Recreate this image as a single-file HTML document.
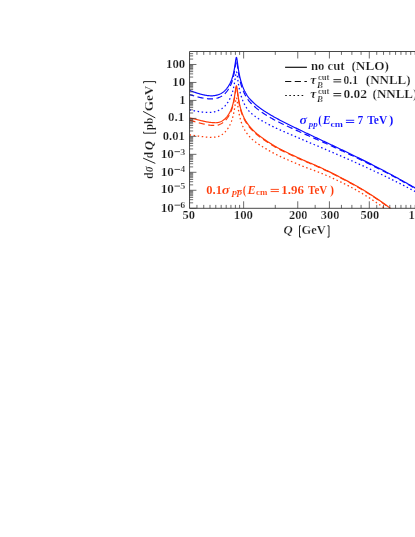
<!DOCTYPE html><html><head><meta charset="utf-8"><style>html,body{margin:0;padding:0;background:#fff}body{width:415px;height:537px;position:relative;overflow:hidden;font-family:"Liberation Serif",serif}</style></head><body><svg width="415" height="537" viewBox="0 0 415 537" style="position:absolute;left:0;top:0;will-change:transform">
<defs><clipPath id="c"><rect x="189.55" y="51.50" width="300" height="156.80"/></clipPath></defs>
<rect width="415" height="537" fill="#fff"/>
<g clip-path="url(#c)" fill="none" stroke-width="1.20" stroke-linejoin="round">
<path d="M189.55,134.91 L190.05,134.96 L190.55,135.01 L191.05,135.07 L191.55,135.13 L192.05,135.19 L192.55,135.25 L193.05,135.32 L193.55,135.38 L194.05,135.45 L194.55,135.52 L195.05,135.59 L195.55,135.66 L196.05,135.73 L196.55,135.80 L197.05,135.87 L197.55,135.94 L198.05,136.02 L198.55,136.09 L199.05,136.16 L199.55,136.23 L200.05,136.30 L200.55,136.37 L201.05,136.44 L201.55,136.51 L202.05,136.58 L202.55,136.65 L203.05,136.71 L203.55,136.77 L204.05,136.83 L204.55,136.89 L205.05,136.94 L205.55,137.00 L206.05,137.04 L206.55,137.09 L207.05,137.13 L207.55,137.17 L208.05,137.20 L208.55,137.22 L209.05,137.25 L209.55,137.26 L210.05,137.27 L210.55,137.28 L211.05,137.27 L211.55,137.26 L212.05,137.24 L212.55,137.22 L213.05,137.20 L213.55,137.18 L214.05,137.16 L214.55,137.13 L215.05,137.09 L215.55,137.04 L216.05,136.98 L216.55,136.91 L217.05,136.82 L217.55,136.70 L218.05,136.57 L218.55,136.41 L219.05,136.22 L219.55,136.01 L220.05,135.77 L220.55,135.51 L221.05,135.23 L221.55,134.92 L222.05,134.58 L222.55,134.22 L223.05,133.84 L223.55,133.42 L224.05,132.98 L224.55,132.50 L225.05,131.99 L225.55,131.45 L226.05,130.87 L226.55,130.26 L227.05,129.60 L227.55,128.90 L228.00,128.24 L228.05,128.16 L228.10,128.09 L228.15,128.01 L228.20,127.93 L228.25,127.85 L228.30,127.78 L228.35,127.70 L228.40,127.62 L228.45,127.54 L228.50,127.46 L228.55,127.37 L228.55,127.37 L228.60,127.29 L228.65,127.21 L228.70,127.13 L228.75,127.04 L228.80,126.96 L228.85,126.87 L228.90,126.79 L228.95,126.70 L229.00,126.62 L229.05,126.53 L229.05,126.53 L229.10,126.44 L229.15,126.35 L229.20,126.26 L229.25,126.17 L229.30,126.08 L229.35,125.99 L229.40,125.90 L229.45,125.80 L229.50,125.71 L229.55,125.61 L229.55,125.61 L229.60,125.52 L229.65,125.42 L229.70,125.32 L229.75,125.23 L229.80,125.13 L229.85,125.03 L229.90,124.93 L229.95,124.83 L230.00,124.72 L230.05,124.62 L230.05,124.62 L230.10,124.52 L230.15,124.41 L230.20,124.30 L230.25,124.20 L230.30,124.09 L230.35,123.98 L230.40,123.87 L230.45,123.76 L230.50,123.65 L230.55,123.53 L230.55,123.53 L230.60,123.42 L230.65,123.30 L230.70,123.19 L230.75,123.07 L230.80,122.95 L230.85,122.83 L230.90,122.71 L230.95,122.59 L231.00,122.46 L231.05,122.34 L231.05,122.34 L231.10,122.21 L231.15,122.08 L231.20,121.95 L231.25,121.82 L231.30,121.69 L231.35,121.56 L231.40,121.42 L231.45,121.29 L231.50,121.15 L231.55,121.01 L231.55,121.01 L231.60,120.87 L231.65,120.73 L231.70,120.58 L231.75,120.44 L231.80,120.29 L231.85,120.14 L231.90,119.99 L231.95,119.84 L232.00,119.69 L232.05,119.53 L232.05,119.53 L232.10,119.37 L232.15,119.22 L232.20,119.05 L232.25,118.89 L232.30,118.73 L232.35,118.56 L232.40,118.39 L232.45,118.22 L232.50,118.05 L232.55,117.87 L232.55,117.87 L232.60,117.70 L232.65,117.52 L232.70,117.34 L232.75,117.15 L232.80,116.97 L232.85,116.78 L232.90,116.59 L232.95,116.40 L233.00,116.20 L233.05,116.00 L233.05,116.00 L233.10,115.80 L233.15,115.60 L233.20,115.39 L233.25,115.18 L233.30,114.97 L233.35,114.76 L233.40,114.54 L233.45,114.32 L233.50,114.10 L233.55,113.87 L233.55,113.87 L233.60,113.64 L233.65,113.41 L233.70,113.17 L233.75,112.93 L233.80,112.69 L233.85,112.45 L233.90,112.20 L233.95,111.94 L234.00,111.68 L234.05,111.42 L234.05,111.42 L234.10,111.16 L234.15,110.89 L234.20,110.62 L234.25,110.34 L234.30,110.06 L234.35,109.77 L234.40,109.49 L234.45,109.19 L234.50,108.89 L234.55,108.59 L234.55,108.59 L234.60,108.29 L234.65,107.98 L234.70,107.66 L234.75,107.34 L234.80,107.02 L234.85,106.69 L234.90,106.36 L234.95,106.02 L235.00,105.68 L235.05,105.34 L235.05,105.34 L235.10,105.00 L235.15,104.65 L235.20,104.29 L235.25,103.94 L235.30,103.58 L235.35,103.23 L235.40,102.87 L235.45,102.52 L235.50,102.16 L235.55,101.81 L235.55,101.81 L235.60,101.46 L235.65,101.11 L235.70,100.78 L235.75,100.45 L235.80,100.13 L235.85,99.82 L235.90,99.53 L235.95,99.25 L236.00,98.99 L236.05,98.75 L236.05,98.75 L236.10,98.54 L236.15,98.35 L236.20,98.19 L236.25,98.06 L236.30,97.95 L236.35,97.88 L236.40,97.85 L236.45,97.85 L236.50,97.88 L236.55,97.95 L236.55,97.95 L236.60,98.05 L236.65,98.18 L236.70,98.34 L236.75,98.53 L236.80,98.75 L236.85,98.99 L236.90,99.25 L236.95,99.54 L237.00,99.84 L237.05,100.16 L237.05,100.16 L237.10,100.48 L237.15,100.83 L237.20,101.18 L237.25,101.53 L237.30,101.90 L237.35,102.26 L237.40,102.63 L237.45,103.01 L237.50,103.38 L237.55,103.75 L237.55,103.75 L237.60,104.13 L237.65,104.50 L237.70,104.87 L237.75,105.24 L237.80,105.60 L237.85,105.96 L237.90,106.32 L237.95,106.68 L238.00,107.03 L238.05,107.37 L238.05,107.37 L238.10,107.72 L238.15,108.05 L238.20,108.39 L238.25,108.72 L238.30,109.04 L238.35,109.36 L238.40,109.68 L238.45,109.99 L238.50,110.30 L238.55,110.60 L238.55,110.60 L238.60,110.90 L238.65,111.20 L238.70,111.49 L238.75,111.78 L238.80,112.06 L238.85,112.34 L238.90,112.61 L238.95,112.88 L239.00,113.15 L239.05,113.41 L239.05,113.41 L239.10,113.67 L239.15,113.93 L239.20,114.18 L239.25,114.43 L239.30,114.67 L239.35,114.91 L239.40,115.15 L239.45,115.39 L239.50,115.62 L239.55,115.85 L239.55,115.85 L239.60,116.07 L239.65,116.29 L239.70,116.51 L239.75,116.73 L239.80,116.94 L239.85,117.15 L239.90,117.36 L239.95,117.56 L240.00,117.76 L240.05,117.96 L240.05,117.96 L240.10,118.16 L240.15,118.35 L240.20,118.55 L240.25,118.74 L240.30,118.92 L240.35,119.11 L240.40,119.29 L240.45,119.47 L240.50,119.65 L240.55,119.83 L240.55,119.83 L240.60,120.01 L240.65,120.18 L240.70,120.35 L240.75,120.52 L240.80,120.69 L240.85,120.85 L240.90,121.02 L240.95,121.18 L241.00,121.34 L241.05,121.50 L241.05,121.50 L241.10,121.66 L241.15,121.81 L241.20,121.97 L241.25,122.12 L241.30,122.27 L241.35,122.42 L241.40,122.57 L241.45,122.71 L241.50,122.86 L241.55,123.00 L241.55,123.00 L241.60,123.15 L241.65,123.29 L241.70,123.43 L241.75,123.56 L241.80,123.70 L241.85,123.84 L241.90,123.97 L241.95,124.11 L242.00,124.24 L242.05,124.37 L242.05,124.37 L242.10,124.50 L242.15,124.63 L242.20,124.76 L242.25,124.88 L242.30,125.01 L242.35,125.13 L242.40,125.25 L242.45,125.38 L242.50,125.50 L242.55,125.62 L242.55,125.62 L242.60,125.74 L242.65,125.86 L242.70,125.97 L242.75,126.09 L242.80,126.20 L242.85,126.32 L242.90,126.43 L242.95,126.54 L243.00,126.66 L243.05,126.77 L243.05,126.77 L243.10,126.88 L243.15,126.99 L243.20,127.09 L243.25,127.20 L243.30,127.31 L243.35,127.41 L243.40,127.52 L243.45,127.62 L243.50,127.73 L243.55,127.83 L243.55,127.83 L243.60,127.93 L243.65,128.03 L243.70,128.13 L243.75,128.23 L243.80,128.33 L243.85,128.43 L243.90,128.53 L243.95,128.62 L244.00,128.72 L244.05,128.81 L244.05,128.81 L244.10,128.91 L244.15,129.00 L244.20,129.10 L244.25,129.19 L244.30,129.28 L244.35,129.37 L244.40,129.46 L244.45,129.55 L244.50,129.64 L244.55,129.73 L244.55,129.73 L244.60,129.82 L244.65,129.91 L244.70,130.00 L244.75,130.08 L244.80,130.17 L244.85,130.26 L244.90,130.34 L244.95,130.43 L245.00,130.51 L245.05,130.59 L245.05,130.59 L245.10,130.68 L245.15,130.76 L245.20,130.84 L245.25,130.92 L245.30,131.01 L245.35,131.09 L245.40,131.17 L245.45,131.25 L245.50,131.33 L245.55,131.40 L245.55,131.40 L245.60,131.48 L245.65,131.56 L245.70,131.64 L245.75,131.71 L245.80,131.79 L245.85,131.87 L245.90,131.94 L245.95,132.02 L246.05,132.17 L246.55,132.89 L247.05,133.58 L247.55,134.24 L248.05,134.86 L248.55,135.47 L249.05,136.05 L249.55,136.61 L250.05,137.16 L250.55,137.68 L251.05,138.19 L251.55,138.68 L252.05,139.16 L252.55,139.61 L253.05,140.06 L253.55,140.49 L254.05,140.91 L254.55,141.32 L255.05,141.71 L255.55,142.10 L256.05,142.48 L256.55,142.84 L257.05,143.20 L257.55,143.56 L258.05,143.90 L258.55,144.24 L259.05,144.57 L259.55,144.89 L260.05,145.21 L260.55,145.53 L261.05,145.84 L261.55,146.15 L262.05,146.46 L262.55,146.77 L263.05,147.07 L263.55,147.37 L264.05,147.67 L264.55,147.97 L265.05,148.27 L265.55,148.57 L266.05,148.86 L266.55,149.16 L267.05,149.45 L267.55,149.74 L268.05,150.03 L268.55,150.32 L269.05,150.61 L269.55,150.89 L270.05,151.18 L270.55,151.46 L271.05,151.75 L271.55,152.03 L272.05,152.30 L272.55,152.58 L273.05,152.85 L273.55,153.12 L274.05,153.39 L274.55,153.66 L275.05,153.92 L275.55,154.18 L276.05,154.44 L276.55,154.69 L277.05,154.95 L277.55,155.19 L278.05,155.44 L278.55,155.68 L279.05,155.92 L279.55,156.16 L280.05,156.39 L280.55,156.62 L281.05,156.85 L281.55,157.08 L282.05,157.31 L282.55,157.53 L283.05,157.76 L283.55,157.99 L284.05,158.21 L284.55,158.44 L285.05,158.66 L285.55,158.88 L286.05,159.10 L286.55,159.32 L287.05,159.55 L287.55,159.77 L288.05,159.98 L288.55,160.20 L289.05,160.42 L289.55,160.64 L290.05,160.86 L290.55,161.07 L291.05,161.29 L291.55,161.51 L292.05,161.72 L292.55,161.94 L293.05,162.15 L293.55,162.36 L294.05,162.58 L294.55,162.79 L295.05,163.00 L295.55,163.21 L296.05,163.42 L296.55,163.64 L297.05,163.85 L297.55,164.06 L298.05,164.27 L298.55,164.48 L299.05,164.68 L299.55,164.89 L300.05,165.10 L300.55,165.31 L301.05,165.51 L301.55,165.72 L302.05,165.92 L302.55,166.12 L303.05,166.32 L303.55,166.52 L304.05,166.71 L304.55,166.91 L305.05,167.10 L305.55,167.29 L306.05,167.48 L306.55,167.67 L307.05,167.86 L307.55,168.05 L308.05,168.24 L308.55,168.43 L309.05,168.62 L309.55,168.80 L310.05,168.99 L310.55,169.17 L311.05,169.36 L311.55,169.55 L312.05,169.73 L312.55,169.92 L313.05,170.10 L313.55,170.29 L314.05,170.47 L314.55,170.66 L315.05,170.84 L315.55,171.03 L316.05,171.22 L316.55,171.41 L317.05,171.60 L317.55,171.79 L318.05,171.98 L318.55,172.18 L319.05,172.37 L319.55,172.57 L320.05,172.77 L320.55,172.97 L321.05,173.17 L321.55,173.38 L322.05,173.58 L322.55,173.78 L323.05,173.99 L323.55,174.20 L324.05,174.41 L324.55,174.61 L325.05,174.83 L325.55,175.04 L326.05,175.25 L326.55,175.47 L327.05,175.68 L327.55,175.90 L328.05,176.12 L328.55,176.34 L329.05,176.56 L329.55,176.78 L330.05,177.00 L330.55,177.23 L331.05,177.46 L331.55,177.68 L332.05,177.91 L332.55,178.14 L333.05,178.37 L333.55,178.61 L334.05,178.84 L334.55,179.07 L335.05,179.30 L335.55,179.54 L336.05,179.77 L336.55,180.01 L337.05,180.24 L337.55,180.48 L338.05,180.72 L338.55,180.95 L339.05,181.19 L339.55,181.43 L340.05,181.67 L340.55,181.91 L341.05,182.15 L341.55,182.39 L342.05,182.64 L342.55,182.88 L343.05,183.13 L343.55,183.37 L344.05,183.62 L344.55,183.87 L345.05,184.12 L345.55,184.37 L346.05,184.62 L346.55,184.87 L347.05,185.13 L347.55,185.38 L348.05,185.64 L348.55,185.89 L349.05,186.15 L349.55,186.41 L350.05,186.67 L350.55,186.94 L351.05,187.20 L351.55,187.47 L352.05,187.74 L352.55,188.01 L353.05,188.28 L353.55,188.56 L354.05,188.83 L354.55,189.11 L355.05,189.39 L355.55,189.67 L356.05,189.95 L356.55,190.23 L357.05,190.51 L357.55,190.80 L358.05,191.08 L358.55,191.37 L359.05,191.66 L359.55,191.95 L360.05,192.24 L360.55,192.54 L361.05,192.83 L361.55,193.13 L362.05,193.42 L362.55,193.72 L363.05,194.02 L363.55,194.32 L364.05,194.63 L364.55,194.93 L365.05,195.24 L365.55,195.54 L366.05,195.85 L366.55,196.17 L367.05,196.48 L367.55,196.79 L368.05,197.11 L368.55,197.43 L369.05,197.75 L369.55,198.07 L370.05,198.39 L370.55,198.71 L371.05,199.04 L371.55,199.37 L372.05,199.69 L372.55,200.02 L373.05,200.35 L373.55,200.68 L374.05,201.01 L374.55,201.34 L375.05,201.67 L375.55,202.01 L376.05,202.34 L376.55,202.68 L377.05,203.02 L377.55,203.36 L378.05,203.70 L378.55,204.04 L379.05,204.39 L379.55,204.74 L380.05,205.09 L380.55,205.44 L381.05,205.79 L381.55,206.15 L382.05,206.50 L382.55,206.87 L383.05,207.23 L383.55,207.59 L384.05,207.96 L384.55,208.33 L385.05,208.70 L385.55,209.08 L386.05,209.46 L386.55,209.84 L387.05,210.22 L387.55,210.61 L388.05,211.00" stroke="#ff3a08" stroke-width="1.28" stroke-dasharray="1.5 2.6" />
<path d="M189.55,120.21 L190.05,120.35 L190.55,120.48 L191.05,120.62 L191.55,120.76 L192.05,120.90 L192.55,121.03 L193.05,121.17 L193.55,121.31 L194.05,121.45 L194.55,121.59 L195.05,121.73 L195.55,121.87 L196.05,122.00 L196.55,122.14 L197.05,122.28 L197.55,122.42 L198.05,122.55 L198.55,122.69 L199.05,122.82 L199.55,122.96 L200.05,123.09 L200.55,123.22 L201.05,123.35 L201.55,123.48 L202.05,123.60 L202.55,123.73 L203.05,123.85 L203.55,123.97 L204.05,124.08 L204.55,124.20 L205.05,124.31 L205.55,124.41 L206.05,124.52 L206.55,124.62 L207.05,124.71 L207.55,124.80 L208.05,124.89 L208.55,124.97 L209.05,125.04 L209.55,125.11 L210.05,125.18 L210.55,125.23 L211.05,125.28 L211.55,125.32 L212.05,125.36 L212.55,125.39 L213.05,125.41 L213.55,125.44 L214.05,125.45 L214.55,125.45 L215.05,125.45 L215.55,125.43 L216.05,125.39 L216.55,125.34 L217.05,125.27 L217.55,125.17 L218.05,125.05 L218.55,124.91 L219.05,124.74 L219.55,124.54 L220.05,124.31 L220.55,124.07 L221.05,123.80 L221.55,123.50 L222.05,123.18 L222.55,122.84 L223.05,122.47 L223.55,122.07 L224.05,121.65 L224.55,121.20 L225.05,120.71 L225.55,120.20 L226.05,119.65 L226.55,119.06 L227.05,118.43 L227.55,117.76 L228.00,117.12 L228.05,117.04 L228.10,116.97 L228.15,116.89 L228.20,116.82 L228.25,116.74 L228.30,116.67 L228.35,116.59 L228.40,116.52 L228.45,116.44 L228.50,116.36 L228.55,116.28 L228.55,116.28 L228.60,116.20 L228.65,116.12 L228.70,116.04 L228.75,115.96 L228.80,115.88 L228.85,115.80 L228.90,115.71 L228.95,115.63 L229.00,115.55 L229.05,115.46 L229.05,115.46 L229.10,115.38 L229.15,115.29 L229.20,115.20 L229.25,115.12 L229.30,115.03 L229.35,114.94 L229.40,114.85 L229.45,114.76 L229.50,114.67 L229.55,114.58 L229.55,114.58 L229.60,114.48 L229.65,114.39 L229.70,114.29 L229.75,114.20 L229.80,114.10 L229.85,114.01 L229.90,113.91 L229.95,113.81 L230.00,113.71 L230.05,113.61 L230.05,113.61 L230.10,113.51 L230.15,113.41 L230.20,113.30 L230.25,113.20 L230.30,113.09 L230.35,112.99 L230.40,112.88 L230.45,112.77 L230.50,112.66 L230.55,112.55 L230.55,112.55 L230.60,112.44 L230.65,112.33 L230.70,112.21 L230.75,112.10 L230.80,111.98 L230.85,111.86 L230.90,111.75 L230.95,111.63 L231.00,111.50 L231.05,111.38 L231.05,111.38 L231.10,111.26 L231.15,111.13 L231.20,111.01 L231.25,110.88 L231.30,110.75 L231.35,110.62 L231.40,110.49 L231.45,110.36 L231.50,110.22 L231.55,110.09 L231.55,110.09 L231.60,109.95 L231.65,109.81 L231.70,109.67 L231.75,109.53 L231.80,109.38 L231.85,109.24 L231.90,109.09 L231.95,108.94 L232.00,108.79 L232.05,108.64 L232.05,108.64 L232.10,108.48 L232.15,108.33 L232.20,108.17 L232.25,108.01 L232.30,107.85 L232.35,107.68 L232.40,107.52 L232.45,107.35 L232.50,107.18 L232.55,107.01 L232.55,107.01 L232.60,106.83 L232.65,106.66 L232.70,106.48 L232.75,106.30 L232.80,106.12 L232.85,105.93 L232.90,105.74 L232.95,105.56 L233.00,105.36 L233.05,105.17 L233.05,105.17 L233.10,104.97 L233.15,104.77 L233.20,104.57 L233.25,104.36 L233.30,104.15 L233.35,103.94 L233.40,103.73 L233.45,103.51 L233.50,103.29 L233.55,103.07 L233.55,103.07 L233.60,102.84 L233.65,102.61 L233.70,102.38 L233.75,102.14 L233.80,101.90 L233.85,101.66 L233.90,101.41 L233.95,101.16 L234.00,100.91 L234.05,100.65 L234.05,100.65 L234.10,100.39 L234.15,100.13 L234.20,99.86 L234.25,99.58 L234.30,99.30 L234.35,99.02 L234.40,98.74 L234.45,98.45 L234.50,98.15 L234.55,97.85 L234.55,97.85 L234.60,97.55 L234.65,97.24 L234.70,96.93 L234.75,96.62 L234.80,96.30 L234.85,95.97 L234.90,95.64 L234.95,95.31 L235.00,94.98 L235.05,94.64 L235.05,94.64 L235.10,94.29 L235.15,93.95 L235.20,93.60 L235.25,93.25 L235.30,92.90 L235.35,92.55 L235.40,92.19 L235.45,91.84 L235.50,91.49 L235.55,91.14 L235.55,91.14 L235.60,90.79 L235.65,90.45 L235.70,90.12 L235.75,89.79 L235.80,89.48 L235.85,89.17 L235.90,88.88 L235.95,88.61 L236.00,88.36 L236.05,88.12 L236.05,88.12 L236.10,87.91 L236.15,87.72 L236.20,87.57 L236.25,87.44 L236.30,87.34 L236.35,87.27 L236.40,87.24 L236.45,87.24 L236.50,87.28 L236.55,87.35 L236.55,87.35 L236.60,87.45 L236.65,87.59 L236.70,87.75 L236.75,87.95 L236.80,88.17 L236.85,88.42 L236.90,88.68 L236.95,88.97 L237.00,89.28 L237.05,89.60 L237.05,89.60 L237.10,89.93 L237.15,90.28 L237.20,90.63 L237.25,90.99 L237.30,91.36 L237.35,91.73 L237.40,92.10 L237.45,92.48 L237.50,92.86 L237.55,93.24 L237.55,93.24 L237.60,93.61 L237.65,93.99 L237.70,94.36 L237.75,94.73 L237.80,95.10 L237.85,95.47 L237.90,95.83 L237.95,96.19 L238.00,96.54 L238.05,96.90 L238.05,96.90 L238.10,97.24 L238.15,97.58 L238.20,97.92 L238.25,98.26 L238.30,98.59 L238.35,98.91 L238.40,99.23 L238.45,99.55 L238.50,99.86 L238.55,100.17 L238.55,100.17 L238.60,100.47 L238.65,100.77 L238.70,101.06 L238.75,101.36 L238.80,101.64 L238.85,101.92 L238.90,102.20 L238.95,102.48 L239.00,102.75 L239.05,103.02 L239.05,103.02 L239.10,103.28 L239.15,103.54 L239.20,103.80 L239.25,104.05 L239.30,104.30 L239.35,104.54 L239.40,104.79 L239.45,105.03 L239.50,105.26 L239.55,105.49 L239.55,105.49 L239.60,105.72 L239.65,105.95 L239.70,106.17 L239.75,106.39 L239.80,106.61 L239.85,106.83 L239.90,107.04 L239.95,107.25 L240.00,107.45 L240.05,107.66 L240.05,107.66 L240.10,107.86 L240.15,108.06 L240.20,108.25 L240.25,108.45 L240.30,108.64 L240.35,108.83 L240.40,109.02 L240.45,109.20 L240.50,109.39 L240.55,109.57 L240.55,109.57 L240.60,109.75 L240.65,109.93 L240.70,110.10 L240.75,110.28 L240.80,110.45 L240.85,110.62 L240.90,110.79 L240.95,110.96 L241.00,111.12 L241.05,111.28 L241.05,111.28 L241.10,111.45 L241.15,111.61 L241.20,111.77 L241.25,111.92 L241.30,112.08 L241.35,112.23 L241.40,112.39 L241.45,112.54 L241.50,112.69 L241.55,112.84 L241.55,112.84 L241.60,112.98 L241.65,113.13 L241.70,113.27 L241.75,113.42 L241.80,113.56 L241.85,113.70 L241.90,113.84 L241.95,113.98 L242.00,114.11 L242.05,114.25 L242.05,114.25 L242.10,114.39 L242.15,114.52 L242.20,114.65 L242.25,114.78 L242.30,114.91 L242.35,115.04 L242.40,115.17 L242.45,115.30 L242.50,115.42 L242.55,115.55 L242.55,115.55 L242.60,115.67 L242.65,115.80 L242.70,115.92 L242.75,116.04 L242.80,116.16 L242.85,116.28 L242.90,116.40 L242.95,116.51 L243.00,116.63 L243.05,116.75 L243.05,116.75 L243.10,116.86 L243.15,116.98 L243.20,117.09 L243.25,117.20 L243.30,117.31 L243.35,117.42 L243.40,117.53 L243.45,117.64 L243.50,117.75 L243.55,117.86 L243.55,117.86 L243.60,117.97 L243.65,118.07 L243.70,118.18 L243.75,118.28 L243.80,118.39 L243.85,118.49 L243.90,118.59 L243.95,118.69 L244.00,118.80 L244.05,118.90 L244.05,118.90 L244.10,119.00 L244.15,119.09 L244.20,119.19 L244.25,119.29 L244.30,119.39 L244.35,119.49 L244.40,119.58 L244.45,119.68 L244.50,119.77 L244.55,119.87 L244.55,119.87 L244.60,119.96 L244.65,120.05 L244.70,120.15 L244.75,120.24 L244.80,120.33 L244.85,120.42 L244.90,120.51 L244.95,120.60 L245.00,120.69 L245.05,120.78 L245.05,120.78 L245.10,120.87 L245.15,120.96 L245.20,121.04 L245.25,121.13 L245.30,121.22 L245.35,121.30 L245.40,121.39 L245.45,121.47 L245.50,121.56 L245.55,121.64 L245.55,121.64 L245.60,121.73 L245.65,121.81 L245.70,121.89 L245.75,121.98 L245.80,122.06 L245.85,122.14 L245.90,122.22 L245.95,122.30 L246.05,122.46 L246.55,123.24 L247.05,123.98 L247.55,124.69 L248.05,125.38 L248.55,126.04 L249.05,126.68 L249.55,127.30 L250.05,127.90 L250.55,128.48 L251.05,129.05 L251.55,129.60 L252.05,130.13 L252.55,130.64 L253.05,131.15 L253.55,131.63 L254.05,132.11 L254.55,132.57 L255.05,133.03 L255.55,133.47 L256.05,133.90 L256.55,134.33 L257.05,134.74 L257.55,135.15 L258.05,135.55 L258.55,135.94 L259.05,136.32 L259.55,136.70 L260.05,137.07 L260.55,137.44 L261.05,137.80 L261.55,138.16 L262.05,138.52 L262.55,138.87 L263.05,139.22 L263.55,139.57 L264.05,139.92 L264.55,140.26 L265.05,140.60 L265.55,140.94 L266.05,141.28 L266.55,141.61 L267.05,141.94 L267.55,142.27 L268.05,142.60 L268.55,142.92 L269.05,143.25 L269.55,143.57 L270.05,143.88 L270.55,144.20 L271.05,144.51 L271.55,144.82 L272.05,145.13 L272.55,145.43 L273.05,145.73 L273.55,146.03 L274.05,146.33 L274.55,146.62 L275.05,146.91 L275.55,147.19 L276.05,147.48 L276.55,147.76 L277.05,148.03 L277.55,148.31 L278.05,148.58 L278.55,148.85 L279.05,149.11 L279.55,149.37 L280.05,149.62 L280.55,149.88 L281.05,150.13 L281.55,150.38 L282.05,150.63 L282.55,150.88 L283.05,151.12 L283.55,151.37 L284.05,151.62 L284.55,151.86 L285.05,152.11 L285.55,152.35 L286.05,152.59 L286.55,152.83 L287.05,153.07 L287.55,153.31 L288.05,153.55 L288.55,153.79 L289.05,154.03 L289.55,154.26 L290.05,154.50 L290.55,154.74 L291.05,154.97 L291.55,155.21 L292.05,155.44 L292.55,155.67 L293.05,155.91 L293.55,156.14 L294.05,156.37 L294.55,156.60 L295.05,156.84 L295.55,157.07 L296.05,157.30 L296.55,157.53 L297.05,157.76 L297.55,157.99 L298.05,158.22 L298.55,158.44 L299.05,158.67 L299.55,158.90 L300.05,159.13 L300.55,159.36 L301.05,159.58 L301.55,159.81 L302.05,160.03 L302.55,160.25 L303.05,160.47 L303.55,160.69 L304.05,160.90 L304.55,161.12 L305.05,161.34 L305.55,161.55 L306.05,161.76 L306.55,161.98 L307.05,162.19 L307.55,162.40 L308.05,162.61 L308.55,162.82 L309.05,163.03 L309.55,163.24 L310.05,163.45 L310.55,163.66 L311.05,163.88 L311.55,164.09 L312.05,164.30 L312.55,164.51 L313.05,164.72 L313.55,164.93 L314.05,165.15 L314.55,165.36 L315.05,165.58 L315.55,165.79 L316.05,166.01 L316.55,166.23 L317.05,166.44 L317.55,166.66 L318.05,166.89 L318.55,167.11 L319.05,167.33 L319.55,167.56 L320.05,167.79 L320.55,168.02 L321.05,168.25 L321.55,168.48 L322.05,168.71 L322.55,168.94 L323.05,169.17 L323.55,169.41 L324.05,169.64 L324.55,169.88 L325.05,170.12 L325.55,170.36 L326.05,170.59 L326.55,170.83 L327.05,171.07 L327.55,171.32 L328.05,171.56 L328.55,171.80 L329.05,172.04 L329.55,172.29 L330.05,172.53 L330.55,172.78 L331.05,173.03 L331.55,173.27 L332.05,173.52 L332.55,173.77 L333.05,174.02 L333.55,174.27 L334.05,174.52 L334.55,174.77 L335.05,175.02 L335.55,175.28 L336.05,175.53 L336.55,175.78 L337.05,176.04 L337.55,176.29 L338.05,176.55 L338.55,176.81 L339.05,177.07 L339.55,177.32 L340.05,177.58 L340.55,177.84 L341.05,178.10 L341.55,178.36 L342.05,178.62 L342.55,178.88 L343.05,179.14 L343.55,179.41 L344.05,179.67 L344.55,179.93 L345.05,180.20 L345.55,180.46 L346.05,180.72 L346.55,180.99 L347.05,181.25 L347.55,181.52 L348.05,181.79 L348.55,182.05 L349.05,182.32 L349.55,182.59 L350.05,182.85 L350.55,183.12 L351.05,183.39 L351.55,183.66 L352.05,183.93 L352.55,184.21 L353.05,184.48 L353.55,184.76 L354.05,185.03 L354.55,185.31 L355.05,185.59 L355.55,185.87 L356.05,186.15 L356.55,186.43 L357.05,186.71 L357.55,187.00 L358.05,187.28 L358.55,187.57 L359.05,187.86 L359.55,188.15 L360.05,188.44 L360.55,188.73 L361.05,189.03 L361.55,189.32 L362.05,189.62 L362.55,189.91 L363.05,190.21 L363.55,190.51 L364.05,190.82 L364.55,191.12 L365.05,191.43 L365.55,191.73 L366.05,192.04 L366.55,192.35 L367.05,192.66 L367.55,192.97 L368.05,193.29 L368.55,193.60 L369.05,193.92 L369.55,194.24 L370.05,194.56 L370.55,194.88 L371.05,195.21 L371.55,195.53 L372.05,195.85 L372.55,196.18 L373.05,196.50 L373.55,196.83 L374.05,197.16 L374.55,197.49 L375.05,197.81 L375.55,198.15 L376.05,198.48 L376.55,198.81 L377.05,199.15 L377.55,199.48 L378.05,199.82 L378.55,200.16 L379.05,200.50 L379.55,200.84 L380.05,201.19 L380.55,201.53 L381.05,201.88 L381.55,202.23 L382.05,202.58 L382.55,202.94 L383.05,203.29 L383.55,203.65 L384.05,204.01 L384.55,204.38 L385.05,204.74 L385.55,205.11 L386.05,205.48 L386.55,205.86 L387.05,206.23 L387.55,206.61 L388.05,207.00 L388.55,207.38 L389.05,207.77 L389.55,208.16 L390.05,208.56 L390.55,208.95 L391.05,209.35 L391.55,209.75 L392.05,210.16 L392.55,210.57 L393.05,210.98" stroke="#ff3a08" stroke-dasharray="6.1 3.5" />
<path d="M189.55,117.91 L190.05,118.01 L190.55,118.12 L191.05,118.22 L191.55,118.33 L192.05,118.44 L192.55,118.56 L193.05,118.67 L193.55,118.79 L194.05,118.90 L194.55,119.02 L195.05,119.14 L195.55,119.26 L196.05,119.38 L196.55,119.50 L197.05,119.63 L197.55,119.75 L198.05,119.87 L198.55,120.00 L199.05,120.12 L199.55,120.24 L200.05,120.37 L200.55,120.49 L201.05,120.61 L201.55,120.73 L202.05,120.85 L202.55,120.96 L203.05,121.08 L203.55,121.19 L204.05,121.31 L204.55,121.42 L205.05,121.52 L205.55,121.63 L206.05,121.73 L206.55,121.82 L207.05,121.92 L207.55,122.01 L208.05,122.09 L208.55,122.17 L209.05,122.24 L209.55,122.31 L210.05,122.38 L210.55,122.43 L211.05,122.48 L211.55,122.52 L212.05,122.56 L212.55,122.59 L213.05,122.62 L213.55,122.66 L214.05,122.69 L214.55,122.71 L215.05,122.73 L215.55,122.73 L216.05,122.73 L216.55,122.71 L217.05,122.67 L217.55,122.61 L218.05,122.53 L218.55,122.42 L219.05,122.29 L219.55,122.13 L220.05,121.95 L220.55,121.74 L221.05,121.51 L221.55,121.26 L222.05,120.98 L222.55,120.67 L223.05,120.34 L223.55,119.98 L224.05,119.59 L224.55,119.17 L225.05,118.72 L225.55,118.23 L226.05,117.71 L226.55,117.15 L227.05,116.54 L227.55,115.90 L228.00,115.29 L228.05,115.22 L228.10,115.15 L228.15,115.08 L228.20,115.00 L228.25,114.93 L228.30,114.86 L228.35,114.78 L228.40,114.71 L228.45,114.64 L228.50,114.56 L228.55,114.48 L228.55,114.48 L228.60,114.41 L228.65,114.33 L228.70,114.25 L228.75,114.18 L228.80,114.10 L228.85,114.02 L228.90,113.94 L228.95,113.86 L229.00,113.78 L229.05,113.69 L229.05,113.69 L229.10,113.61 L229.15,113.53 L229.20,113.44 L229.25,113.36 L229.30,113.27 L229.35,113.19 L229.40,113.10 L229.45,113.01 L229.50,112.92 L229.55,112.84 L229.55,112.84 L229.60,112.75 L229.65,112.65 L229.70,112.56 L229.75,112.47 L229.80,112.38 L229.85,112.28 L229.90,112.19 L229.95,112.09 L230.00,111.99 L230.05,111.90 L230.05,111.90 L230.10,111.80 L230.15,111.70 L230.20,111.60 L230.25,111.50 L230.30,111.39 L230.35,111.29 L230.40,111.19 L230.45,111.08 L230.50,110.97 L230.55,110.87 L230.55,110.87 L230.60,110.76 L230.65,110.65 L230.70,110.54 L230.75,110.42 L230.80,110.31 L230.85,110.20 L230.90,110.08 L230.95,109.96 L231.00,109.84 L231.05,109.73 L231.05,109.73 L231.10,109.60 L231.15,109.48 L231.20,109.36 L231.25,109.23 L231.30,109.11 L231.35,108.98 L231.40,108.85 L231.45,108.72 L231.50,108.59 L231.55,108.46 L231.55,108.46 L231.60,108.32 L231.65,108.18 L231.70,108.05 L231.75,107.91 L231.80,107.76 L231.85,107.62 L231.90,107.48 L231.95,107.33 L232.00,107.18 L232.05,107.03 L232.05,107.03 L232.10,106.88 L232.15,106.73 L232.20,106.57 L232.25,106.41 L232.30,106.26 L232.35,106.09 L232.40,105.93 L232.45,105.77 L232.50,105.60 L232.55,105.43 L232.55,105.43 L232.60,105.26 L232.65,105.09 L232.70,104.91 L232.75,104.73 L232.80,104.55 L232.85,104.37 L232.90,104.18 L232.95,104.00 L233.00,103.81 L233.05,103.61 L233.05,103.61 L233.10,103.42 L233.15,103.22 L233.20,103.02 L233.25,102.82 L233.30,102.61 L233.35,102.40 L233.40,102.19 L233.45,101.98 L233.50,101.76 L233.55,101.54 L233.55,101.54 L233.60,101.32 L233.65,101.09 L233.70,100.86 L233.75,100.63 L233.80,100.39 L233.85,100.15 L233.90,99.90 L233.95,99.65 L234.00,99.40 L234.05,99.15 L234.05,99.15 L234.10,98.89 L234.15,98.63 L234.20,98.36 L234.25,98.09 L234.30,97.81 L234.35,97.53 L234.40,97.25 L234.45,96.96 L234.50,96.67 L234.55,96.37 L234.55,96.37 L234.60,96.07 L234.65,95.77 L234.70,95.46 L234.75,95.14 L234.80,94.83 L234.85,94.50 L234.90,94.18 L234.95,93.85 L235.00,93.51 L235.05,93.18 L235.05,93.18 L235.10,92.84 L235.15,92.49 L235.20,92.15 L235.25,91.80 L235.30,91.45 L235.35,91.10 L235.40,90.75 L235.45,90.40 L235.50,90.05 L235.55,89.70 L235.55,89.70 L235.60,89.36 L235.65,89.02 L235.70,88.69 L235.75,88.36 L235.80,88.05 L235.85,87.75 L235.90,87.46 L235.95,87.19 L236.00,86.94 L236.05,86.70 L236.05,86.70 L236.10,86.49 L236.15,86.31 L236.20,86.15 L236.25,86.03 L236.30,85.93 L236.35,85.87 L236.40,85.84 L236.45,85.84 L236.50,85.88 L236.55,85.95 L236.55,85.95 L236.60,86.06 L236.65,86.19 L236.70,86.36 L236.75,86.56 L236.80,86.78 L236.85,87.03 L236.90,87.30 L236.95,87.59 L237.00,87.90 L237.05,88.22 L237.05,88.22 L237.10,88.55 L237.15,88.90 L237.20,89.26 L237.25,89.62 L237.30,89.99 L237.35,90.36 L237.40,90.74 L237.45,91.12 L237.50,91.50 L237.55,91.88 L237.55,91.88 L237.60,92.25 L237.65,92.63 L237.70,93.01 L237.75,93.38 L237.80,93.75 L237.85,94.12 L237.90,94.48 L237.95,94.84 L238.00,95.20 L238.05,95.55 L238.05,95.55 L238.10,95.90 L238.15,96.25 L238.20,96.59 L238.25,96.92 L238.30,97.25 L238.35,97.58 L238.40,97.90 L238.45,98.22 L238.50,98.53 L238.55,98.84 L238.55,98.84 L238.60,99.15 L238.65,99.45 L238.70,99.75 L238.75,100.04 L238.80,100.33 L238.85,100.61 L238.90,100.89 L238.95,101.17 L239.00,101.44 L239.05,101.71 L239.05,101.71 L239.10,101.98 L239.15,102.24 L239.20,102.49 L239.25,102.75 L239.30,103.00 L239.35,103.25 L239.40,103.49 L239.45,103.73 L239.50,103.97 L239.55,104.21 L239.55,104.21 L239.60,104.44 L239.65,104.66 L239.70,104.89 L239.75,105.11 L239.80,105.33 L239.85,105.55 L239.90,105.76 L239.95,105.97 L240.00,106.18 L240.05,106.38 L240.05,106.38 L240.10,106.59 L240.15,106.79 L240.20,106.99 L240.25,107.18 L240.30,107.38 L240.35,107.57 L240.40,107.76 L240.45,107.94 L240.50,108.13 L240.55,108.31 L240.55,108.31 L240.60,108.50 L240.65,108.67 L240.70,108.85 L240.75,109.03 L240.80,109.20 L240.85,109.37 L240.90,109.54 L240.95,109.71 L241.00,109.88 L241.05,110.05 L241.05,110.05 L241.10,110.21 L241.15,110.37 L241.20,110.53 L241.25,110.69 L241.30,110.85 L241.35,111.00 L241.40,111.16 L241.45,111.31 L241.50,111.46 L241.55,111.61 L241.55,111.61 L241.60,111.76 L241.65,111.91 L241.70,112.06 L241.75,112.20 L241.80,112.34 L241.85,112.49 L241.90,112.63 L241.95,112.77 L242.00,112.91 L242.05,113.04 L242.05,113.04 L242.10,113.18 L242.15,113.32 L242.20,113.45 L242.25,113.58 L242.30,113.71 L242.35,113.84 L242.40,113.97 L242.45,114.10 L242.50,114.23 L242.55,114.36 L242.55,114.36 L242.60,114.48 L242.65,114.61 L242.70,114.73 L242.75,114.85 L242.80,114.98 L242.85,115.10 L242.90,115.22 L242.95,115.34 L243.00,115.45 L243.05,115.57 L243.05,115.57 L243.10,115.69 L243.15,115.80 L243.20,115.92 L243.25,116.03 L243.30,116.14 L243.35,116.26 L243.40,116.37 L243.45,116.48 L243.50,116.59 L243.55,116.70 L243.55,116.70 L243.60,116.81 L243.65,116.91 L243.70,117.02 L243.75,117.13 L243.80,117.23 L243.85,117.34 L243.90,117.44 L243.95,117.54 L244.00,117.65 L244.05,117.75 L244.05,117.75 L244.10,117.85 L244.15,117.95 L244.20,118.05 L244.25,118.15 L244.30,118.25 L244.35,118.35 L244.40,118.45 L244.45,118.54 L244.50,118.64 L244.55,118.73 L244.55,118.73 L244.60,118.83 L244.65,118.92 L244.70,119.02 L244.75,119.11 L244.80,119.21 L244.85,119.30 L244.90,119.39 L244.95,119.48 L245.00,119.57 L245.05,119.66 L245.05,119.66 L245.10,119.75 L245.15,119.84 L245.20,119.93 L245.25,120.02 L245.30,120.11 L245.35,120.19 L245.40,120.28 L245.45,120.37 L245.50,120.45 L245.55,120.54 L245.55,120.54 L245.60,120.62 L245.65,120.71 L245.70,120.79 L245.75,120.88 L245.80,120.96 L245.85,121.04 L245.90,121.13 L245.95,121.21 L246.05,121.37 L246.55,122.16 L247.05,122.92 L247.55,123.64 L248.05,124.34 L248.55,125.01 L249.05,125.66 L249.55,126.29 L250.05,126.90 L250.55,127.49 L251.05,128.07 L251.55,128.63 L252.05,129.17 L252.55,129.69 L253.05,130.21 L253.55,130.70 L254.05,131.19 L254.55,131.66 L255.05,132.12 L255.55,132.58 L256.05,133.02 L256.55,133.45 L257.05,133.87 L257.55,134.29 L258.05,134.69 L258.55,135.09 L259.05,135.48 L259.55,135.87 L260.05,136.25 L260.55,136.62 L261.05,136.99 L261.55,137.36 L262.05,137.72 L262.55,138.08 L263.05,138.44 L263.55,138.80 L264.05,139.15 L264.55,139.50 L265.05,139.85 L265.55,140.19 L266.05,140.54 L266.55,140.88 L267.05,141.21 L267.55,141.55 L268.05,141.88 L268.55,142.21 L269.05,142.54 L269.55,142.86 L270.05,143.18 L270.55,143.50 L271.05,143.82 L271.55,144.13 L272.05,144.45 L272.55,144.75 L273.05,145.06 L273.55,145.36 L274.05,145.66 L274.55,145.96 L275.05,146.25 L275.55,146.54 L276.05,146.83 L276.55,147.12 L277.05,147.40 L277.55,147.67 L278.05,147.95 L278.55,148.22 L279.05,148.49 L279.55,148.75 L280.05,149.01 L280.55,149.27 L281.05,149.52 L281.55,149.78 L282.05,150.03 L282.55,150.28 L283.05,150.53 L283.55,150.78 L284.05,151.03 L284.55,151.28 L285.05,151.53 L285.55,151.77 L286.05,152.02 L286.55,152.26 L287.05,152.51 L287.55,152.75 L288.05,152.99 L288.55,153.23 L289.05,153.47 L289.55,153.71 L290.05,153.95 L290.55,154.19 L291.05,154.43 L291.55,154.67 L292.05,154.90 L292.55,155.14 L293.05,155.38 L293.55,155.61 L294.05,155.85 L294.55,156.08 L295.05,156.31 L295.55,156.55 L296.05,156.78 L296.55,157.01 L297.05,157.25 L297.55,157.48 L298.05,157.71 L298.55,157.94 L299.05,158.17 L299.55,158.40 L300.05,158.63 L300.55,158.86 L301.05,159.09 L301.55,159.31 L302.05,159.54 L302.55,159.76 L303.05,159.98 L303.55,160.20 L304.05,160.42 L304.55,160.64 L305.05,160.85 L305.55,161.07 L306.05,161.29 L306.55,161.50 L307.05,161.71 L307.55,161.93 L308.05,162.14 L308.55,162.35 L309.05,162.57 L309.55,162.78 L310.05,162.99 L310.55,163.20 L311.05,163.42 L311.55,163.63 L312.05,163.84 L312.55,164.05 L313.05,164.27 L313.55,164.48 L314.05,164.70 L314.55,164.91 L315.05,165.13 L315.55,165.35 L316.05,165.56 L316.55,165.78 L317.05,166.00 L317.55,166.23 L318.05,166.45 L318.55,166.67 L319.05,166.90 L319.55,167.13 L320.05,167.36 L320.55,167.59 L321.05,167.82 L321.55,168.05 L322.05,168.28 L322.55,168.52 L323.05,168.75 L323.55,168.99 L324.05,169.22 L324.55,169.46 L325.05,169.70 L325.55,169.94 L326.05,170.18 L326.55,170.42 L327.05,170.66 L327.55,170.90 L328.05,171.15 L328.55,171.39 L329.05,171.63 L329.55,171.88 L330.05,172.12 L330.55,172.37 L331.05,172.62 L331.55,172.87 L332.05,173.12 L332.55,173.36 L333.05,173.61 L333.55,173.87 L334.05,174.12 L334.55,174.37 L335.05,174.62 L335.55,174.88 L336.05,175.13 L336.55,175.38 L337.05,175.64 L337.55,175.89 L338.05,176.15 L338.55,176.41 L339.05,176.67 L339.55,176.92 L340.05,177.18 L340.55,177.44 L341.05,177.70 L341.55,177.96 L342.05,178.22 L342.55,178.48 L343.05,178.74 L343.55,179.01 L344.05,179.27 L344.55,179.53 L345.05,179.80 L345.55,180.06 L346.05,180.32 L346.55,180.59 L347.05,180.85 L347.55,181.12 L348.05,181.39 L348.55,181.65 L349.05,181.92 L349.55,182.19 L350.05,182.45 L350.55,182.72 L351.05,182.99 L351.55,183.26 L352.05,183.53 L352.55,183.81 L353.05,184.08 L353.55,184.36 L354.05,184.63 L354.55,184.91 L355.05,185.19 L355.55,185.47 L356.05,185.75 L356.55,186.03 L357.05,186.31 L357.55,186.60 L358.05,186.88 L358.55,187.17 L359.05,187.46 L359.55,187.75 L360.05,188.04 L360.55,188.33 L361.05,188.63 L361.55,188.92 L362.05,189.22 L362.55,189.51 L363.05,189.81 L363.55,190.11 L364.05,190.42 L364.55,190.72 L365.05,191.03 L365.55,191.33 L366.05,191.64 L366.55,191.95 L367.05,192.26 L367.55,192.57 L368.05,192.89 L368.55,193.20 L369.05,193.52 L369.55,193.84 L370.05,194.16 L370.55,194.48 L371.05,194.81 L371.55,195.13 L372.05,195.45 L372.55,195.78 L373.05,196.10 L373.55,196.43 L374.05,196.76 L374.55,197.09 L375.05,197.41 L375.55,197.75 L376.05,198.08 L376.55,198.41 L377.05,198.75 L377.55,199.08 L378.05,199.42 L378.55,199.76 L379.05,200.10 L379.55,200.44 L380.05,200.79 L380.55,201.13 L381.05,201.48 L381.55,201.83 L382.05,202.18 L382.55,202.54 L383.05,202.89 L383.55,203.25 L384.05,203.61 L384.55,203.98 L385.05,204.34 L385.55,204.71 L386.05,205.08 L386.55,205.46 L387.05,205.83 L387.55,206.21 L388.05,206.60 L388.55,206.98 L389.05,207.37 L389.55,207.76 L390.05,208.16 L390.55,208.55 L391.05,208.95 L391.55,209.35 L392.05,209.76 L392.55,210.17 L393.05,210.58 L393.55,210.99" stroke="#ff3a08" />
<path d="M189.55,109.85 L190.05,109.95 L190.55,110.06 L191.05,110.16 L191.55,110.27 L192.05,110.37 L192.55,110.47 L193.05,110.57 L193.55,110.67 L194.05,110.76 L194.55,110.86 L195.05,110.95 L195.55,111.04 L196.05,111.13 L196.55,111.22 L197.05,111.30 L197.55,111.39 L198.05,111.47 L198.55,111.55 L199.05,111.62 L199.55,111.69 L200.05,111.76 L200.55,111.83 L201.05,111.90 L201.55,111.96 L202.05,112.02 L202.55,112.07 L203.05,112.12 L203.55,112.17 L204.05,112.22 L204.55,112.26 L205.05,112.29 L205.55,112.32 L206.05,112.35 L206.55,112.37 L207.05,112.39 L207.55,112.40 L208.05,112.40 L208.55,112.40 L209.05,112.39 L209.55,112.38 L210.05,112.36 L210.55,112.33 L211.05,112.29 L211.55,112.25 L212.05,112.19 L212.55,112.13 L213.05,112.06 L213.55,111.97 L214.05,111.88 L214.55,111.77 L215.05,111.65 L215.55,111.52 L216.05,111.38 L216.55,111.22 L217.05,111.05 L217.55,110.87 L218.05,110.67 L218.55,110.46 L219.05,110.24 L219.55,109.99 L220.05,109.73 L220.55,109.45 L221.05,109.15 L221.55,108.83 L222.05,108.48 L222.55,108.11 L223.05,107.72 L223.55,107.30 L224.05,106.85 L224.55,106.36 L225.05,105.85 L225.55,105.30 L226.05,104.71 L226.55,104.08 L227.05,103.41 L227.55,102.70 L228.00,102.03 L228.05,101.95 L228.10,101.88 L228.15,101.80 L228.20,101.72 L228.25,101.64 L228.30,101.56 L228.35,101.48 L228.40,101.40 L228.45,101.32 L228.50,101.24 L228.55,101.16 L228.55,101.16 L228.60,101.08 L228.65,101.00 L228.70,100.91 L228.75,100.83 L228.80,100.74 L228.85,100.66 L228.90,100.57 L228.95,100.49 L229.00,100.40 L229.05,100.31 L229.05,100.31 L229.10,100.22 L229.15,100.14 L229.20,100.05 L229.25,99.96 L229.30,99.87 L229.35,99.77 L229.40,99.68 L229.45,99.59 L229.50,99.50 L229.55,99.40 L229.55,99.40 L229.60,99.31 L229.65,99.21 L229.70,99.11 L229.75,99.02 L229.80,98.92 L229.85,98.82 L229.90,98.72 L229.95,98.62 L230.00,98.52 L230.05,98.41 L230.05,98.41 L230.10,98.31 L230.15,98.20 L230.20,98.10 L230.25,97.99 L230.30,97.89 L230.35,97.78 L230.40,97.67 L230.45,97.56 L230.50,97.45 L230.55,97.33 L230.55,97.33 L230.60,97.22 L230.65,97.11 L230.70,96.99 L230.75,96.87 L230.80,96.76 L230.85,96.64 L230.90,96.52 L230.95,96.40 L231.00,96.27 L231.05,96.15 L231.05,96.15 L231.10,96.02 L231.15,95.90 L231.20,95.77 L231.25,95.64 L231.30,95.51 L231.35,95.38 L231.40,95.24 L231.45,95.11 L231.50,94.97 L231.55,94.84 L231.55,94.84 L231.60,94.70 L231.65,94.56 L231.70,94.41 L231.75,94.27 L231.80,94.12 L231.85,93.98 L231.90,93.83 L231.95,93.68 L232.00,93.53 L232.05,93.37 L232.05,93.37 L232.10,93.22 L232.15,93.06 L232.20,92.90 L232.25,92.74 L232.30,92.58 L232.35,92.41 L232.40,92.25 L232.45,92.08 L232.50,91.91 L232.55,91.73 L232.55,91.73 L232.60,91.56 L232.65,91.38 L232.70,91.21 L232.75,91.02 L232.80,90.84 L232.85,90.66 L232.90,90.47 L232.95,90.28 L233.00,90.09 L233.05,89.89 L233.05,89.89 L233.10,89.69 L233.15,89.50 L233.20,89.29 L233.25,89.09 L233.30,88.88 L233.35,88.67 L233.40,88.45 L233.45,88.24 L233.50,88.02 L233.55,87.80 L233.55,87.80 L233.60,87.57 L233.65,87.34 L233.70,87.11 L233.75,86.87 L233.80,86.63 L233.85,86.39 L233.90,86.14 L233.95,85.89 L234.00,85.64 L234.05,85.38 L234.05,85.38 L234.10,85.12 L234.15,84.86 L234.20,84.59 L234.25,84.31 L234.30,84.04 L234.35,83.76 L234.40,83.47 L234.45,83.18 L234.50,82.89 L234.55,82.59 L234.55,82.59 L234.60,82.29 L234.65,81.98 L234.70,81.67 L234.75,81.35 L234.80,81.03 L234.85,80.71 L234.90,80.38 L234.95,80.05 L235.00,79.71 L235.05,79.37 L235.05,79.37 L235.10,79.03 L235.15,78.68 L235.20,78.33 L235.25,77.98 L235.30,77.63 L235.35,77.27 L235.40,76.92 L235.45,76.57 L235.50,76.21 L235.55,75.86 L235.55,75.86 L235.60,75.52 L235.65,75.18 L235.70,74.84 L235.75,74.51 L235.80,74.20 L235.85,73.89 L235.90,73.60 L235.95,73.32 L236.00,73.07 L236.05,72.83 L236.05,72.83 L236.10,72.62 L236.15,72.43 L236.20,72.27 L236.25,72.14 L236.30,72.03 L236.35,71.97 L236.40,71.93 L236.45,71.93 L236.50,71.96 L236.55,72.03 L236.55,72.03 L236.60,72.13 L236.65,72.26 L236.70,72.42 L236.75,72.61 L236.80,72.83 L236.85,73.07 L236.90,73.33 L236.95,73.61 L237.00,73.91 L237.05,74.23 L237.05,74.23 L237.10,74.56 L237.15,74.89 L237.20,75.24 L237.25,75.60 L237.30,75.96 L237.35,76.32 L237.40,76.69 L237.45,77.06 L237.50,77.43 L237.55,77.80 L237.55,77.80 L237.60,78.17 L237.65,78.54 L237.70,78.91 L237.75,79.27 L237.80,79.64 L237.85,79.99 L237.90,80.35 L237.95,80.70 L238.00,81.05 L238.05,81.39 L238.05,81.39 L238.10,81.73 L238.15,82.07 L238.20,82.40 L238.25,82.72 L238.30,83.05 L238.35,83.36 L238.40,83.68 L238.45,83.99 L238.50,84.29 L238.55,84.59 L238.55,84.59 L238.60,84.89 L238.65,85.18 L238.70,85.47 L238.75,85.76 L238.80,86.04 L238.85,86.31 L238.90,86.59 L238.95,86.86 L239.00,87.12 L239.05,87.38 L239.05,87.38 L239.10,87.64 L239.15,87.90 L239.20,88.15 L239.25,88.40 L239.30,88.64 L239.35,88.88 L239.40,89.12 L239.45,89.36 L239.50,89.59 L239.55,89.82 L239.55,89.82 L239.60,90.05 L239.65,90.27 L239.70,90.49 L239.75,90.71 L239.80,90.93 L239.85,91.14 L239.90,91.35 L239.95,91.56 L240.00,91.77 L240.05,91.97 L240.05,91.97 L240.10,92.17 L240.15,92.37 L240.20,92.57 L240.25,92.76 L240.30,92.95 L240.35,93.14 L240.40,93.33 L240.45,93.52 L240.50,93.70 L240.55,93.88 L240.55,93.88 L240.60,94.06 L240.65,94.24 L240.70,94.42 L240.75,94.59 L240.80,94.77 L240.85,94.94 L240.90,95.11 L240.95,95.28 L241.00,95.44 L241.05,95.61 L241.05,95.61 L241.10,95.77 L241.15,95.93 L241.20,96.09 L241.25,96.25 L241.30,96.41 L241.35,96.57 L241.40,96.72 L241.45,96.88 L241.50,97.03 L241.55,97.18 L241.55,97.18 L241.60,97.33 L241.65,97.48 L241.70,97.62 L241.75,97.77 L241.80,97.91 L241.85,98.06 L241.90,98.20 L241.95,98.34 L242.00,98.48 L242.05,98.62 L242.05,98.62 L242.10,98.76 L242.15,98.89 L242.20,99.03 L242.25,99.16 L242.30,99.30 L242.35,99.43 L242.40,99.56 L242.45,99.69 L242.50,99.82 L242.55,99.95 L242.55,99.95 L242.60,100.08 L242.65,100.20 L242.70,100.33 L242.75,100.45 L242.80,100.58 L242.85,100.70 L242.90,100.82 L242.95,100.94 L243.00,101.06 L243.05,101.18 L243.05,101.18 L243.10,101.30 L243.15,101.42 L243.20,101.53 L243.25,101.65 L243.30,101.77 L243.35,101.88 L243.40,101.99 L243.45,102.11 L243.50,102.22 L243.55,102.33 L243.55,102.33 L243.60,102.44 L243.65,102.55 L243.70,102.66 L243.75,102.77 L243.80,102.88 L243.85,102.98 L243.90,103.09 L243.95,103.19 L244.00,103.30 L244.05,103.40 L244.05,103.40 L244.10,103.51 L244.15,103.61 L244.20,103.71 L244.25,103.81 L244.30,103.91 L244.35,104.01 L244.40,104.11 L244.45,104.21 L244.50,104.31 L244.55,104.41 L244.55,104.41 L244.60,104.51 L244.65,104.60 L244.70,104.70 L244.75,104.79 L244.80,104.89 L244.85,104.98 L244.90,105.07 L244.95,105.17 L245.00,105.26 L245.05,105.35 L245.05,105.35 L245.10,105.44 L245.15,105.53 L245.20,105.62 L245.25,105.71 L245.30,105.80 L245.35,105.89 L245.40,105.98 L245.45,106.06 L245.50,106.15 L245.55,106.24 L245.55,106.24 L245.60,106.32 L245.65,106.41 L245.70,106.49 L245.75,106.58 L245.80,106.66 L245.85,106.74 L245.90,106.83 L245.95,106.91 L246.05,107.07 L246.55,107.85 L247.05,108.59 L247.55,109.27 L248.05,109.92 L248.55,110.51 L249.05,111.08 L249.55,111.61 L250.05,112.11 L250.55,112.58 L251.05,113.04 L251.55,113.47 L252.05,113.90 L252.55,114.31 L253.05,114.71 L253.55,115.11 L254.05,115.51 L254.55,115.90 L255.05,116.29 L255.55,116.66 L256.05,117.02 L256.55,117.37 L257.05,117.72 L257.55,118.06 L258.05,118.39 L258.55,118.72 L259.05,119.03 L259.55,119.35 L260.05,119.66 L260.55,119.96 L261.05,120.26 L261.55,120.55 L262.05,120.84 L262.55,121.13 L263.05,121.41 L263.55,121.69 L264.05,121.96 L264.55,122.24 L265.05,122.51 L265.55,122.78 L266.05,123.04 L266.55,123.31 L267.05,123.57 L267.55,123.83 L268.05,124.09 L268.55,124.35 L269.05,124.61 L269.55,124.87 L270.05,125.13 L270.55,125.38 L271.05,125.64 L271.55,125.89 L272.05,126.14 L272.55,126.38 L273.05,126.63 L273.55,126.87 L274.05,127.11 L274.55,127.35 L275.05,127.59 L275.55,127.83 L276.05,128.07 L276.55,128.30 L277.05,128.54 L277.55,128.77 L278.05,129.00 L278.55,129.23 L279.05,129.46 L279.55,129.69 L280.05,129.91 L280.55,130.14 L281.05,130.37 L281.55,130.59 L282.05,130.82 L282.55,131.04 L283.05,131.26 L283.55,131.48 L284.05,131.70 L284.55,131.92 L285.05,132.14 L285.55,132.36 L286.05,132.58 L286.55,132.80 L287.05,133.02 L287.55,133.24 L288.05,133.45 L288.55,133.67 L289.05,133.89 L289.55,134.10 L290.05,134.32 L290.55,134.53 L291.05,134.75 L291.55,134.96 L292.05,135.18 L292.55,135.39 L293.05,135.61 L293.55,135.82 L294.05,136.04 L294.55,136.25 L295.05,136.46 L295.55,136.68 L296.05,136.89 L296.55,137.10 L297.05,137.32 L297.55,137.53 L298.05,137.74 L298.55,137.96 L299.05,138.17 L299.55,138.38 L300.05,138.60 L300.55,138.81 L301.05,139.02 L301.55,139.23 L302.05,139.45 L302.55,139.66 L303.05,139.87 L303.55,140.08 L304.05,140.29 L304.55,140.51 L305.05,140.72 L305.55,140.93 L306.05,141.14 L306.55,141.35 L307.05,141.56 L307.55,141.77 L308.05,141.99 L308.55,142.20 L309.05,142.41 L309.55,142.62 L310.05,142.83 L310.55,143.04 L311.05,143.25 L311.55,143.46 L312.05,143.67 L312.55,143.88 L313.05,144.09 L313.55,144.30 L314.05,144.51 L314.55,144.73 L315.05,144.94 L315.55,145.15 L316.05,145.36 L316.55,145.57 L317.05,145.78 L317.55,146.00 L318.05,146.21 L318.55,146.42 L319.05,146.63 L319.55,146.84 L320.05,147.06 L320.55,147.27 L321.05,147.48 L321.55,147.70 L322.05,147.91 L322.55,148.12 L323.05,148.34 L323.55,148.55 L324.05,148.76 L324.55,148.98 L325.05,149.19 L325.55,149.40 L326.05,149.62 L326.55,149.83 L327.05,150.05 L327.55,150.26 L328.05,150.48 L328.55,150.69 L329.05,150.91 L329.55,151.12 L330.05,151.34 L330.55,151.55 L331.05,151.77 L331.55,151.98 L332.05,152.20 L332.55,152.42 L333.05,152.63 L333.55,152.85 L334.05,153.07 L334.55,153.28 L335.05,153.50 L335.55,153.72 L336.05,153.93 L336.55,154.15 L337.05,154.37 L337.55,154.59 L338.05,154.80 L338.55,155.02 L339.05,155.24 L339.55,155.46 L340.05,155.68 L340.55,155.90 L341.05,156.12 L341.55,156.33 L342.05,156.55 L342.55,156.77 L343.05,156.99 L343.55,157.21 L344.05,157.43 L344.55,157.65 L345.05,157.87 L345.55,158.09 L346.05,158.31 L346.55,158.53 L347.05,158.75 L347.55,158.97 L348.05,159.19 L348.55,159.41 L349.05,159.63 L349.55,159.86 L350.05,160.08 L350.55,160.30 L351.05,160.52 L351.55,160.74 L352.05,160.96 L352.55,161.19 L353.05,161.41 L353.55,161.63 L354.05,161.85 L354.55,162.08 L355.05,162.30 L355.55,162.52 L356.05,162.75 L356.55,162.97 L357.05,163.19 L357.55,163.42 L358.05,163.64 L358.55,163.87 L359.05,164.09 L359.55,164.32 L360.05,164.54 L360.55,164.77 L361.05,164.99 L361.55,165.22 L362.05,165.45 L362.55,165.67 L363.05,165.90 L363.55,166.13 L364.05,166.36 L364.55,166.59 L365.05,166.81 L365.55,167.04 L366.05,167.27 L366.55,167.50 L367.05,167.73 L367.55,167.96 L368.05,168.19 L368.55,168.42 L369.05,168.65 L369.55,168.88 L370.05,169.11 L370.55,169.35 L371.05,169.58 L371.55,169.81 L372.05,170.04 L372.55,170.28 L373.05,170.51 L373.55,170.74 L374.05,170.98 L374.55,171.21 L375.05,171.45 L375.55,171.68 L376.05,171.92 L376.55,172.15 L377.05,172.39 L377.55,172.62 L378.05,172.86 L378.55,173.10 L379.05,173.33 L379.55,173.57 L380.05,173.81 L380.55,174.05 L381.05,174.29 L381.55,174.53 L382.05,174.77 L382.55,175.01 L383.05,175.25 L383.55,175.49 L384.05,175.73 L384.55,175.97 L385.05,176.21 L385.55,176.45 L386.05,176.69 L386.55,176.94 L387.05,177.18 L387.55,177.42 L388.05,177.67 L388.55,177.91 L389.05,178.16 L389.55,178.40 L390.05,178.65 L390.55,178.89 L391.05,179.14 L391.55,179.38 L392.05,179.63 L392.55,179.88 L393.05,180.13 L393.55,180.38 L394.05,180.62 L394.55,180.87 L395.05,181.12 L395.55,181.37 L396.05,181.62 L396.55,181.87 L397.05,182.12 L397.55,182.38 L398.05,182.63 L398.55,182.88 L399.05,183.13 L399.55,183.39 L400.05,183.64 L400.55,183.89 L401.05,184.15 L401.55,184.40 L402.05,184.66 L402.55,184.91 L403.05,185.17 L403.55,185.43 L404.05,185.68 L404.55,185.94 L405.05,186.20 L405.55,186.46 L406.05,186.71 L406.55,186.97 L407.05,187.23 L407.55,187.49 L408.05,187.75 L408.55,188.01 L409.05,188.28 L409.55,188.54 L410.05,188.80 L410.55,189.06 L411.05,189.33 L411.55,189.59 L412.05,189.85 L412.55,190.12 L413.05,190.38 L413.55,190.65 L414.05,190.92 L414.55,191.18 L415.05,191.45 L415.55,191.72 L416.05,191.98 L416.55,192.25 L417.05,192.52 L417.55,192.79 L418.05,193.06 L418.55,193.33 L419.05,193.60 L419.55,193.87" stroke="#0c0cff" stroke-width="1.28" stroke-dasharray="1.5 2.6" />
<path d="M189.55,94.55 L190.05,94.71 L190.55,94.86 L191.05,95.02 L191.55,95.17 L192.05,95.32 L192.55,95.47 L193.05,95.62 L193.55,95.76 L194.05,95.91 L194.55,96.05 L195.05,96.19 L195.55,96.33 L196.05,96.46 L196.55,96.60 L197.05,96.73 L197.55,96.86 L198.05,96.98 L198.55,97.11 L199.05,97.23 L199.55,97.34 L200.05,97.46 L200.55,97.57 L201.05,97.68 L201.55,97.79 L202.05,97.89 L202.55,97.99 L203.05,98.08 L203.55,98.17 L204.05,98.26 L204.55,98.34 L205.05,98.42 L205.55,98.49 L206.05,98.56 L206.55,98.63 L207.05,98.68 L207.55,98.74 L208.05,98.78 L208.55,98.82 L209.05,98.86 L209.55,98.88 L210.05,98.90 L210.55,98.91 L211.05,98.92 L211.55,98.92 L212.05,98.90 L212.55,98.88 L213.05,98.85 L213.55,98.80 L214.05,98.75 L214.55,98.68 L215.05,98.60 L215.55,98.51 L216.05,98.40 L216.55,98.28 L217.05,98.15 L217.55,98.00 L218.05,97.84 L218.55,97.66 L219.05,97.47 L219.55,97.26 L220.05,97.04 L220.55,96.79 L221.05,96.52 L221.55,96.23 L222.05,95.92 L222.55,95.58 L223.05,95.22 L223.55,94.83 L224.05,94.41 L224.55,93.97 L225.05,93.48 L225.55,92.97 L226.05,92.41 L226.55,91.82 L227.05,91.18 L227.55,90.50 L228.00,89.87 L228.05,89.79 L228.10,89.72 L228.15,89.64 L228.20,89.57 L228.25,89.49 L228.30,89.42 L228.35,89.34 L228.40,89.27 L228.45,89.19 L228.50,89.11 L228.55,89.03 L228.55,89.03 L228.60,88.96 L228.65,88.88 L228.70,88.80 L228.75,88.72 L228.80,88.64 L228.85,88.55 L228.90,88.47 L228.95,88.39 L229.00,88.31 L229.05,88.22 L229.05,88.22 L229.10,88.14 L229.15,88.05 L229.20,87.97 L229.25,87.88 L229.30,87.79 L229.35,87.70 L229.40,87.62 L229.45,87.53 L229.50,87.44 L229.55,87.35 L229.55,87.35 L229.60,87.25 L229.65,87.16 L229.70,87.07 L229.75,86.97 L229.80,86.88 L229.85,86.78 L229.90,86.69 L229.95,86.59 L230.00,86.49 L230.05,86.39 L230.05,86.39 L230.10,86.29 L230.15,86.19 L230.20,86.09 L230.25,85.99 L230.30,85.88 L230.35,85.78 L230.40,85.67 L230.45,85.57 L230.50,85.46 L230.55,85.35 L230.55,85.35 L230.60,85.24 L230.65,85.13 L230.70,85.02 L230.75,84.91 L230.80,84.79 L230.85,84.68 L230.90,84.56 L230.95,84.44 L231.00,84.32 L231.05,84.20 L231.05,84.20 L231.10,84.08 L231.15,83.96 L231.20,83.83 L231.25,83.71 L231.30,83.58 L231.35,83.45 L231.40,83.32 L231.45,83.19 L231.50,83.06 L231.55,82.93 L231.55,82.93 L231.60,82.79 L231.65,82.66 L231.70,82.52 L231.75,82.38 L231.80,82.23 L231.85,82.09 L231.90,81.95 L231.95,81.80 L232.00,81.65 L232.05,81.50 L232.05,81.50 L232.10,81.35 L232.15,81.20 L232.20,81.04 L232.25,80.88 L232.30,80.72 L232.35,80.56 L232.40,80.40 L232.45,80.24 L232.50,80.07 L232.55,79.90 L232.55,79.90 L232.60,79.73 L232.65,79.56 L232.70,79.39 L232.75,79.21 L232.80,79.03 L232.85,78.85 L232.90,78.66 L232.95,78.48 L233.00,78.29 L233.05,78.10 L233.05,78.10 L233.10,77.91 L233.15,77.71 L233.20,77.51 L233.25,77.31 L233.30,77.11 L233.35,76.90 L233.40,76.69 L233.45,76.48 L233.50,76.26 L233.55,76.04 L233.55,76.04 L233.60,75.82 L233.65,75.60 L233.70,75.37 L233.75,75.14 L233.80,74.90 L233.85,74.66 L233.90,74.42 L233.95,74.17 L234.00,73.92 L234.05,73.67 L234.05,73.67 L234.10,73.41 L234.15,73.15 L234.20,72.89 L234.25,72.62 L234.30,72.35 L234.35,72.07 L234.40,71.79 L234.45,71.50 L234.50,71.21 L234.55,70.92 L234.55,70.92 L234.60,70.62 L234.65,70.32 L234.70,70.01 L234.75,69.70 L234.80,69.38 L234.85,69.06 L234.90,68.74 L234.95,68.41 L235.00,68.08 L235.05,67.74 L235.05,67.74 L235.10,67.40 L235.15,67.06 L235.20,66.72 L235.25,66.37 L235.30,66.02 L235.35,65.67 L235.40,65.32 L235.45,64.97 L235.50,64.62 L235.55,64.28 L235.55,64.28 L235.60,63.94 L235.65,63.60 L235.70,63.27 L235.75,62.95 L235.80,62.63 L235.85,62.33 L235.90,62.04 L235.95,61.77 L236.00,61.52 L236.05,61.29 L236.05,61.29 L236.10,61.08 L236.15,60.90 L236.20,60.74 L236.25,60.61 L236.30,60.52 L236.35,60.45 L236.40,60.42 L236.45,60.43 L236.50,60.46 L236.55,60.53 L236.55,60.53 L236.60,60.64 L236.65,60.77 L236.70,60.94 L236.75,61.13 L236.80,61.36 L236.85,61.60 L236.90,61.87 L236.95,62.16 L237.00,62.46 L237.05,62.78 L237.05,62.78 L237.10,63.11 L237.15,63.45 L237.20,63.81 L237.25,64.17 L237.30,64.53 L237.35,64.90 L237.40,65.27 L237.45,65.65 L237.50,66.03 L237.55,66.40 L237.55,66.40 L237.60,66.78 L237.65,67.15 L237.70,67.52 L237.75,67.89 L237.80,68.26 L237.85,68.62 L237.90,68.98 L237.95,69.34 L238.00,69.69 L238.05,70.04 L238.05,70.04 L238.10,70.38 L238.15,70.72 L238.20,71.06 L238.25,71.39 L238.30,71.72 L238.35,72.04 L238.40,72.36 L238.45,72.67 L238.50,72.98 L238.55,73.29 L238.55,73.29 L238.60,73.59 L238.65,73.89 L238.70,74.18 L238.75,74.47 L238.80,74.76 L238.85,75.04 L238.90,75.32 L238.95,75.59 L239.00,75.86 L239.05,76.13 L239.05,76.13 L239.10,76.39 L239.15,76.66 L239.20,76.91 L239.25,77.17 L239.30,77.42 L239.35,77.66 L239.40,77.91 L239.45,78.15 L239.50,78.39 L239.55,78.62 L239.55,78.62 L239.60,78.85 L239.65,79.08 L239.70,79.31 L239.75,79.53 L239.80,79.75 L239.85,79.97 L239.90,80.19 L239.95,80.40 L240.00,80.61 L240.05,80.82 L240.05,80.82 L240.10,81.03 L240.15,81.23 L240.20,81.44 L240.25,81.64 L240.30,81.83 L240.35,82.03 L240.40,82.22 L240.45,82.41 L240.50,82.60 L240.55,82.79 L240.55,82.79 L240.60,82.98 L240.65,83.16 L240.70,83.34 L240.75,83.52 L240.80,83.70 L240.85,83.88 L240.90,84.06 L240.95,84.23 L241.00,84.40 L241.05,84.57 L241.05,84.57 L241.10,84.74 L241.15,84.91 L241.20,85.07 L241.25,85.24 L241.30,85.40 L241.35,85.56 L241.40,85.72 L241.45,85.88 L241.50,86.04 L241.55,86.20 L241.55,86.20 L241.60,86.35 L241.65,86.51 L241.70,86.66 L241.75,86.81 L241.80,86.96 L241.85,87.11 L241.90,87.26 L241.95,87.40 L242.00,87.55 L242.05,87.70 L242.05,87.70 L242.10,87.84 L242.15,87.98 L242.20,88.12 L242.25,88.26 L242.30,88.40 L242.35,88.54 L242.40,88.68 L242.45,88.81 L242.50,88.95 L242.55,89.08 L242.55,89.08 L242.60,89.22 L242.65,89.35 L242.70,89.48 L242.75,89.61 L242.80,89.74 L242.85,89.87 L242.90,90.00 L242.95,90.12 L243.00,90.25 L243.05,90.37 L243.05,90.37 L243.10,90.50 L243.15,90.62 L243.20,90.74 L243.25,90.87 L243.30,90.99 L243.35,91.11 L243.40,91.23 L243.45,91.35 L243.50,91.46 L243.55,91.58 L243.55,91.58 L243.60,91.70 L243.65,91.81 L243.70,91.93 L243.75,92.04 L243.80,92.16 L243.85,92.27 L243.90,92.38 L243.95,92.49 L244.00,92.61 L244.05,92.72 L244.05,92.72 L244.10,92.83 L244.15,92.93 L244.20,93.04 L244.25,93.15 L244.30,93.26 L244.35,93.36 L244.40,93.47 L244.45,93.57 L244.50,93.68 L244.55,93.78 L244.55,93.78 L244.60,93.89 L244.65,93.99 L244.70,94.09 L244.75,94.19 L244.80,94.29 L244.85,94.39 L244.90,94.49 L244.95,94.59 L245.00,94.69 L245.05,94.79 L245.05,94.79 L245.10,94.88 L245.15,94.98 L245.20,95.08 L245.25,95.17 L245.30,95.27 L245.35,95.36 L245.40,95.46 L245.45,95.55 L245.50,95.64 L245.55,95.74 L245.55,95.74 L245.60,95.83 L245.65,95.92 L245.70,96.01 L245.75,96.10 L245.80,96.19 L245.85,96.28 L245.90,96.37 L245.95,96.46 L246.05,96.63 L246.55,97.48 L247.05,98.28 L247.55,99.03 L248.05,99.73 L248.55,100.40 L249.05,101.02 L249.55,101.62 L250.05,102.18 L250.55,102.73 L251.05,103.25 L251.55,103.75 L252.05,104.24 L252.55,104.72 L253.05,105.19 L253.55,105.65 L254.05,106.12 L254.55,106.57 L255.05,107.02 L255.55,107.46 L256.05,107.89 L256.55,108.30 L257.05,108.71 L257.55,109.12 L258.05,109.51 L258.55,109.90 L259.05,110.28 L259.55,110.65 L260.05,111.02 L260.55,111.38 L261.05,111.74 L261.55,112.09 L262.05,112.44 L262.55,112.78 L263.05,113.12 L263.55,113.45 L264.05,113.78 L264.55,114.11 L265.05,114.43 L265.55,114.75 L266.05,115.07 L266.55,115.38 L267.05,115.69 L267.55,115.99 L268.05,116.29 L268.55,116.59 L269.05,116.89 L269.55,117.18 L270.05,117.47 L270.55,117.76 L271.05,118.04 L271.55,118.32 L272.05,118.60 L272.55,118.88 L273.05,119.15 L273.55,119.42 L274.05,119.69 L274.55,119.95 L275.05,120.22 L275.55,120.48 L276.05,120.74 L276.55,121.00 L277.05,121.25 L277.55,121.51 L278.05,121.76 L278.55,122.01 L279.05,122.26 L279.55,122.51 L280.05,122.75 L280.55,123.00 L281.05,123.24 L281.55,123.49 L282.05,123.73 L282.55,123.97 L283.05,124.20 L283.55,124.44 L284.05,124.68 L284.55,124.91 L285.05,125.15 L285.55,125.38 L286.05,125.62 L286.55,125.85 L287.05,126.08 L287.55,126.31 L288.05,126.54 L288.55,126.77 L289.05,127.00 L289.55,127.23 L290.05,127.46 L290.55,127.68 L291.05,127.91 L291.55,128.14 L292.05,128.37 L292.55,128.59 L293.05,128.82 L293.55,129.04 L294.05,129.27 L294.55,129.50 L295.05,129.72 L295.55,129.95 L296.05,130.17 L296.55,130.40 L297.05,130.62 L297.55,130.85 L298.05,131.07 L298.55,131.30 L299.05,131.53 L299.55,131.75 L300.05,131.98 L300.55,132.21 L301.05,132.43 L301.55,132.66 L302.05,132.88 L302.55,133.11 L303.05,133.33 L303.55,133.55 L304.05,133.78 L304.55,134.00 L305.05,134.22 L305.55,134.45 L306.05,134.67 L306.55,134.89 L307.05,135.11 L307.55,135.33 L308.05,135.55 L308.55,135.77 L309.05,136.00 L309.55,136.22 L310.05,136.44 L310.55,136.66 L311.05,136.88 L311.55,137.10 L312.05,137.32 L312.55,137.54 L313.05,137.76 L313.55,137.98 L314.05,138.20 L314.55,138.42 L315.05,138.64 L315.55,138.86 L316.05,139.08 L316.55,139.30 L317.05,139.52 L317.55,139.74 L318.05,139.96 L318.55,140.18 L319.05,140.40 L319.55,140.62 L320.05,140.84 L320.55,141.06 L321.05,141.28 L321.55,141.50 L322.05,141.72 L322.55,141.94 L323.05,142.16 L323.55,142.39 L324.05,142.61 L324.55,142.83 L325.05,143.05 L325.55,143.28 L326.05,143.50 L326.55,143.72 L327.05,143.95 L327.55,144.17 L328.05,144.40 L328.55,144.62 L329.05,144.85 L329.55,145.07 L330.05,145.30 L330.55,145.52 L331.05,145.75 L331.55,145.98 L332.05,146.21 L332.55,146.43 L333.05,146.66 L333.55,146.89 L334.05,147.12 L334.55,147.35 L335.05,147.58 L335.55,147.81 L336.05,148.04 L336.55,148.27 L337.05,148.51 L337.55,148.74 L338.05,148.97 L338.55,149.20 L339.05,149.43 L339.55,149.67 L340.05,149.90 L340.55,150.13 L341.05,150.37 L341.55,150.60 L342.05,150.84 L342.55,151.07 L343.05,151.31 L343.55,151.54 L344.05,151.78 L344.55,152.01 L345.05,152.25 L345.55,152.48 L346.05,152.72 L346.55,152.96 L347.05,153.19 L347.55,153.43 L348.05,153.67 L348.55,153.91 L349.05,154.14 L349.55,154.38 L350.05,154.62 L350.55,154.86 L351.05,155.10 L351.55,155.34 L352.05,155.58 L352.55,155.82 L353.05,156.06 L353.55,156.30 L354.05,156.54 L354.55,156.78 L355.05,157.02 L355.55,157.26 L356.05,157.50 L356.55,157.74 L357.05,157.99 L357.55,158.23 L358.05,158.47 L358.55,158.71 L359.05,158.96 L359.55,159.20 L360.05,159.44 L360.55,159.69 L361.05,159.93 L361.55,160.17 L362.05,160.42 L362.55,160.66 L363.05,160.91 L363.55,161.15 L364.05,161.40 L364.55,161.65 L365.05,161.89 L365.55,162.14 L366.05,162.39 L366.55,162.63 L367.05,162.88 L367.55,163.13 L368.05,163.38 L368.55,163.62 L369.05,163.87 L369.55,164.12 L370.05,164.37 L370.55,164.62 L371.05,164.87 L371.55,165.12 L372.05,165.37 L372.55,165.62 L373.05,165.88 L373.55,166.13 L374.05,166.38 L374.55,166.63 L375.05,166.88 L375.55,167.14 L376.05,167.39 L376.55,167.65 L377.05,167.90 L377.55,168.15 L378.05,168.41 L378.55,168.66 L379.05,168.92 L379.55,169.18 L380.05,169.43 L380.55,169.69 L381.05,169.95 L381.55,170.20 L382.05,170.46 L382.55,170.72 L383.05,170.98 L383.55,171.24 L384.05,171.50 L384.55,171.76 L385.05,172.02 L385.55,172.28 L386.05,172.54 L386.55,172.80 L387.05,173.06 L387.55,173.32 L388.05,173.58 L388.55,173.85 L389.05,174.11 L389.55,174.37 L390.05,174.64 L390.55,174.90 L391.05,175.16 L391.55,175.43 L392.05,175.69 L392.55,175.96 L393.05,176.23 L393.55,176.49 L394.05,176.76 L394.55,177.03 L395.05,177.30 L395.55,177.56 L396.05,177.83 L396.55,178.10 L397.05,178.37 L397.55,178.64 L398.05,178.91 L398.55,179.18 L399.05,179.45 L399.55,179.72 L400.05,180.00 L400.55,180.27 L401.05,180.54 L401.55,180.81 L402.05,181.09 L402.55,181.36 L403.05,181.64 L403.55,181.91 L404.05,182.19 L404.55,182.46 L405.05,182.74 L405.55,183.02 L406.05,183.29 L406.55,183.57 L407.05,183.85 L407.55,184.13 L408.05,184.41 L408.55,184.69 L409.05,184.97 L409.55,185.25 L410.05,185.53 L410.55,185.81 L411.05,186.09 L411.55,186.37 L412.05,186.66 L412.55,186.94 L413.05,187.22 L413.55,187.51 L414.05,187.79 L414.55,188.08 L415.05,188.36 L415.55,188.65 L416.05,188.94 L416.55,189.22 L417.05,189.51 L417.55,189.80 L418.05,190.09 L418.55,190.38 L419.05,190.67 L419.55,190.96" stroke="#0c0cff" stroke-dasharray="6.1 3.5" stroke-dashoffset="1.3" />
<path d="M189.55,90.45 L190.05,90.64 L190.55,90.83 L191.05,91.01 L191.55,91.20 L192.05,91.38 L192.55,91.56 L193.05,91.73 L193.55,91.91 L194.05,92.08 L194.55,92.25 L195.05,92.42 L195.55,92.59 L196.05,92.75 L196.55,92.91 L197.05,93.07 L197.55,93.23 L198.05,93.38 L198.55,93.53 L199.05,93.68 L199.55,93.82 L200.05,93.96 L200.55,94.10 L201.05,94.23 L201.55,94.36 L202.05,94.48 L202.55,94.60 L203.05,94.72 L203.55,94.83 L204.05,94.94 L204.55,95.04 L205.05,95.14 L205.55,95.23 L206.05,95.32 L206.55,95.39 L207.05,95.47 L207.55,95.54 L208.05,95.60 L208.55,95.65 L209.05,95.69 L209.55,95.73 L210.05,95.76 L210.55,95.78 L211.05,95.80 L211.55,95.80 L212.05,95.79 L212.55,95.78 L213.05,95.75 L213.55,95.71 L214.05,95.66 L214.55,95.59 L215.05,95.51 L215.55,95.42 L216.05,95.32 L216.55,95.20 L217.05,95.07 L217.55,94.93 L218.05,94.77 L218.55,94.60 L219.05,94.41 L219.55,94.20 L220.05,93.98 L220.55,93.74 L221.05,93.47 L221.55,93.18 L222.05,92.87 L222.55,92.54 L223.05,92.18 L223.55,91.79 L224.05,91.37 L224.55,90.93 L225.05,90.45 L225.55,89.93 L226.05,89.38 L226.55,88.79 L227.05,88.15 L227.55,87.48 L228.00,86.84 L228.05,86.76 L228.10,86.69 L228.15,86.62 L228.20,86.54 L228.25,86.47 L228.30,86.39 L228.35,86.32 L228.40,86.24 L228.45,86.16 L228.50,86.09 L228.55,86.01 L228.55,86.01 L228.60,85.93 L228.65,85.85 L228.70,85.77 L228.75,85.69 L228.80,85.61 L228.85,85.53 L228.90,85.45 L228.95,85.36 L229.00,85.28 L229.05,85.20 L229.05,85.20 L229.10,85.11 L229.15,85.03 L229.20,84.94 L229.25,84.86 L229.30,84.77 L229.35,84.68 L229.40,84.59 L229.45,84.50 L229.50,84.41 L229.55,84.32 L229.55,84.32 L229.60,84.23 L229.65,84.14 L229.70,84.05 L229.75,83.95 L229.80,83.86 L229.85,83.76 L229.90,83.67 L229.95,83.57 L230.00,83.47 L230.05,83.37 L230.05,83.37 L230.10,83.27 L230.15,83.17 L230.20,83.07 L230.25,82.97 L230.30,82.86 L230.35,82.76 L230.40,82.65 L230.45,82.55 L230.50,82.44 L230.55,82.33 L230.55,82.33 L230.60,82.22 L230.65,82.11 L230.70,82.00 L230.75,81.89 L230.80,81.77 L230.85,81.66 L230.90,81.54 L230.95,81.42 L231.00,81.30 L231.05,81.18 L231.05,81.18 L231.10,81.06 L231.15,80.94 L231.20,80.82 L231.25,80.69 L231.30,80.56 L231.35,80.44 L231.40,80.31 L231.45,80.18 L231.50,80.04 L231.55,79.91 L231.55,79.91 L231.60,79.78 L231.65,79.64 L231.70,79.50 L231.75,79.36 L231.80,79.22 L231.85,79.08 L231.90,78.93 L231.95,78.78 L232.00,78.64 L232.05,78.49 L232.05,78.49 L232.10,78.33 L232.15,78.18 L232.20,78.03 L232.25,77.87 L232.30,77.71 L232.35,77.55 L232.40,77.39 L232.45,77.22 L232.50,77.06 L232.55,76.89 L232.55,76.89 L232.60,76.72 L232.65,76.55 L232.70,76.37 L232.75,76.20 L232.80,76.02 L232.85,75.84 L232.90,75.65 L232.95,75.47 L233.00,75.28 L233.05,75.09 L233.05,75.09 L233.10,74.89 L233.15,74.70 L233.20,74.50 L233.25,74.30 L233.30,74.10 L233.35,73.89 L233.40,73.68 L233.45,73.47 L233.50,73.25 L233.55,73.03 L233.55,73.03 L233.60,72.81 L233.65,72.59 L233.70,72.36 L233.75,72.13 L233.80,71.89 L233.85,71.65 L233.90,71.41 L233.95,71.17 L234.00,70.92 L234.05,70.66 L234.05,70.66 L234.10,70.41 L234.15,70.15 L234.20,69.88 L234.25,69.61 L234.30,69.34 L234.35,69.06 L234.40,68.78 L234.45,68.49 L234.50,68.20 L234.55,67.91 L234.55,67.91 L234.60,67.61 L234.65,67.31 L234.70,67.00 L234.75,66.69 L234.80,66.38 L234.85,66.06 L234.90,65.73 L234.95,65.40 L235.00,65.07 L235.05,64.74 L235.05,64.74 L235.10,64.40 L235.15,64.06 L235.20,63.71 L235.25,63.37 L235.30,63.02 L235.35,62.67 L235.40,62.32 L235.45,61.97 L235.50,61.62 L235.55,61.28 L235.55,61.28 L235.60,60.93 L235.65,60.60 L235.70,60.27 L235.75,59.94 L235.80,59.63 L235.85,59.33 L235.90,59.04 L235.95,58.77 L236.00,58.52 L236.05,58.29 L236.05,58.29 L236.10,58.08 L236.15,57.89 L236.20,57.74 L236.25,57.61 L236.30,57.52 L236.35,57.45 L236.40,57.42 L236.45,57.43 L236.50,57.46 L236.55,57.53 L236.55,57.53 L236.60,57.64 L236.65,57.77 L236.70,57.94 L236.75,58.14 L236.80,58.36 L236.85,58.60 L236.90,58.87 L236.95,59.16 L237.00,59.46 L237.05,59.78 L237.05,59.78 L237.10,60.11 L237.15,60.46 L237.20,60.81 L237.25,61.17 L237.30,61.54 L237.35,61.91 L237.40,62.28 L237.45,62.65 L237.50,63.03 L237.55,63.41 L237.55,63.41 L237.60,63.78 L237.65,64.15 L237.70,64.53 L237.75,64.90 L237.80,65.26 L237.85,65.63 L237.90,65.99 L237.95,66.34 L238.00,66.70 L238.05,67.04 L238.05,67.04 L238.10,67.39 L238.15,67.73 L238.20,68.07 L238.25,68.40 L238.30,68.72 L238.35,69.05 L238.40,69.37 L238.45,69.68 L238.50,69.99 L238.55,70.30 L238.55,70.30 L238.60,70.60 L238.65,70.90 L238.70,71.19 L238.75,71.48 L238.80,71.77 L238.85,72.05 L238.90,72.33 L238.95,72.60 L239.00,72.87 L239.05,73.14 L239.05,73.14 L239.10,73.40 L239.15,73.66 L239.20,73.92 L239.25,74.18 L239.30,74.43 L239.35,74.67 L239.40,74.92 L239.45,75.16 L239.50,75.40 L239.55,75.63 L239.55,75.63 L239.60,75.86 L239.65,76.09 L239.70,76.32 L239.75,76.54 L239.80,76.76 L239.85,76.98 L239.90,77.20 L239.95,77.41 L240.00,77.63 L240.05,77.83 L240.05,77.83 L240.10,78.04 L240.15,78.25 L240.20,78.45 L240.25,78.65 L240.30,78.85 L240.35,79.04 L240.40,79.24 L240.45,79.43 L240.50,79.62 L240.55,79.81 L240.55,79.81 L240.60,79.99 L240.65,80.18 L240.70,80.36 L240.75,80.54 L240.80,80.72 L240.85,80.90 L240.90,81.07 L240.95,81.24 L241.00,81.42 L241.05,81.59 L241.05,81.59 L241.10,81.76 L241.15,81.92 L241.20,82.09 L241.25,82.26 L241.30,82.42 L241.35,82.58 L241.40,82.74 L241.45,82.90 L241.50,83.06 L241.55,83.21 L241.55,83.21 L241.60,83.37 L241.65,83.52 L241.70,83.68 L241.75,83.83 L241.80,83.98 L241.85,84.13 L241.90,84.28 L241.95,84.42 L242.00,84.57 L242.05,84.71 L242.05,84.71 L242.10,84.86 L242.15,85.00 L242.20,85.14 L242.25,85.28 L242.30,85.42 L242.35,85.56 L242.40,85.70 L242.45,85.83 L242.50,85.97 L242.55,86.10 L242.55,86.10 L242.60,86.24 L242.65,86.37 L242.70,86.50 L242.75,86.63 L242.80,86.76 L242.85,86.89 L242.90,87.02 L242.95,87.14 L243.00,87.27 L243.05,87.40 L243.05,87.40 L243.10,87.52 L243.15,87.64 L243.20,87.77 L243.25,87.89 L243.30,88.01 L243.35,88.13 L243.40,88.25 L243.45,88.37 L243.50,88.49 L243.55,88.61 L243.55,88.61 L243.60,88.72 L243.65,88.84 L243.70,88.95 L243.75,89.07 L243.80,89.18 L243.85,89.29 L243.90,89.41 L243.95,89.52 L244.00,89.63 L244.05,89.74 L244.05,89.74 L244.10,89.85 L244.15,89.96 L244.20,90.07 L244.25,90.17 L244.30,90.28 L244.35,90.39 L244.40,90.49 L244.45,90.60 L244.50,90.70 L244.55,90.81 L244.55,90.81 L244.60,90.91 L244.65,91.01 L244.70,91.12 L244.75,91.22 L244.80,91.32 L244.85,91.42 L244.90,91.52 L244.95,91.62 L245.00,91.72 L245.05,91.81 L245.05,91.81 L245.10,91.91 L245.15,92.01 L245.20,92.10 L245.25,92.20 L245.30,92.30 L245.35,92.39 L245.40,92.48 L245.45,92.58 L245.50,92.67 L245.55,92.76 L245.55,92.76 L245.60,92.86 L245.65,92.95 L245.70,93.04 L245.75,93.13 L245.80,93.22 L245.85,93.31 L245.90,93.40 L245.95,93.49 L246.05,93.66 L246.55,94.51 L247.05,95.31 L247.55,96.06 L248.05,96.77 L248.55,97.43 L249.05,98.06 L249.55,98.66 L250.05,99.22 L250.55,99.77 L251.05,100.29 L251.55,100.79 L252.05,101.28 L252.55,101.76 L253.05,102.24 L253.55,102.70 L254.05,103.17 L254.55,103.63 L255.05,104.08 L255.55,104.52 L256.05,104.94 L256.55,105.36 L257.05,105.78 L257.55,106.18 L258.05,106.58 L258.55,106.97 L259.05,107.35 L259.55,107.72 L260.05,108.10 L260.55,108.46 L261.05,108.82 L261.55,109.17 L262.05,109.52 L262.55,109.87 L263.05,110.21 L263.55,110.55 L264.05,110.88 L264.55,111.21 L265.05,111.53 L265.55,111.86 L266.05,112.18 L266.55,112.49 L267.05,112.80 L267.55,113.11 L268.05,113.42 L268.55,113.73 L269.05,114.03 L269.55,114.33 L270.05,114.63 L270.55,114.93 L271.05,115.22 L271.55,115.51 L272.05,115.80 L272.55,116.09 L273.05,116.37 L273.55,116.66 L274.05,116.94 L274.55,117.22 L275.05,117.49 L275.55,117.77 L276.05,118.04 L276.55,118.32 L277.05,118.59 L277.55,118.86 L278.05,119.12 L278.55,119.39 L279.05,119.65 L279.55,119.92 L280.05,120.18 L280.55,120.44 L281.05,120.70 L281.55,120.96 L282.05,121.22 L282.55,121.48 L283.05,121.73 L283.55,121.99 L284.05,122.24 L284.55,122.49 L285.05,122.75 L285.55,123.00 L286.05,123.25 L286.55,123.50 L287.05,123.75 L287.55,124.00 L288.05,124.25 L288.55,124.49 L289.05,124.74 L289.55,124.99 L290.05,125.23 L290.55,125.48 L291.05,125.73 L291.55,125.97 L292.05,126.21 L292.55,126.46 L293.05,126.70 L293.55,126.94 L294.05,127.19 L294.55,127.43 L295.05,127.67 L295.55,127.91 L296.05,128.16 L296.55,128.40 L297.05,128.64 L297.55,128.88 L298.05,129.12 L298.55,129.36 L299.05,129.60 L299.55,129.84 L300.05,130.08 L300.55,130.32 L301.05,130.56 L301.55,130.80 L302.05,131.04 L302.55,131.28 L303.05,131.52 L303.55,131.75 L304.05,131.99 L304.55,132.23 L305.05,132.47 L305.55,132.70 L306.05,132.94 L306.55,133.18 L307.05,133.41 L307.55,133.65 L308.05,133.89 L308.55,134.12 L309.05,134.36 L309.55,134.59 L310.05,134.83 L310.55,135.07 L311.05,135.30 L311.55,135.54 L312.05,135.77 L312.55,136.01 L313.05,136.24 L313.55,136.48 L314.05,136.71 L314.55,136.95 L315.05,137.18 L315.55,137.42 L316.05,137.65 L316.55,137.88 L317.05,138.12 L317.55,138.35 L318.05,138.59 L318.55,138.82 L319.05,139.06 L319.55,139.29 L320.05,139.53 L320.55,139.76 L321.05,139.99 L321.55,140.23 L322.05,140.46 L322.55,140.70 L323.05,140.93 L323.55,141.17 L324.05,141.40 L324.55,141.64 L325.05,141.87 L325.55,142.11 L326.05,142.34 L326.55,142.58 L327.05,142.81 L327.55,143.05 L328.05,143.28 L328.55,143.52 L329.05,143.75 L329.55,143.99 L330.05,144.22 L330.55,144.46 L331.05,144.69 L331.55,144.93 L332.05,145.16 L332.55,145.40 L333.05,145.64 L333.55,145.87 L334.05,146.11 L334.55,146.34 L335.05,146.58 L335.55,146.82 L336.05,147.05 L336.55,147.29 L337.05,147.53 L337.55,147.77 L338.05,148.00 L338.55,148.24 L339.05,148.48 L339.55,148.72 L340.05,148.95 L340.55,149.19 L341.05,149.43 L341.55,149.67 L342.05,149.91 L342.55,150.15 L343.05,150.39 L343.55,150.63 L344.05,150.86 L344.55,151.10 L345.05,151.34 L345.55,151.58 L346.05,151.82 L346.55,152.06 L347.05,152.31 L347.55,152.55 L348.05,152.79 L348.55,153.03 L349.05,153.27 L349.55,153.51 L350.05,153.75 L350.55,154.00 L351.05,154.24 L351.55,154.48 L352.05,154.72 L352.55,154.97 L353.05,155.21 L353.55,155.45 L354.05,155.70 L354.55,155.94 L355.05,156.19 L355.55,156.43 L356.05,156.68 L356.55,156.92 L357.05,157.17 L357.55,157.41 L358.05,157.66 L358.55,157.90 L359.05,158.15 L359.55,158.40 L360.05,158.64 L360.55,158.89 L361.05,159.14 L361.55,159.39 L362.05,159.63 L362.55,159.88 L363.05,160.13 L363.55,160.38 L364.05,160.63 L364.55,160.88 L365.05,161.13 L365.55,161.38 L366.05,161.63 L366.55,161.88 L367.05,162.13 L367.55,162.38 L368.05,162.63 L368.55,162.88 L369.05,163.14 L369.55,163.39 L370.05,163.64 L370.55,163.89 L371.05,164.15 L371.55,164.40 L372.05,164.66 L372.55,164.91 L373.05,165.17 L373.55,165.42 L374.05,165.68 L374.55,165.93 L375.05,166.19 L375.55,166.44 L376.05,166.70 L376.55,166.96 L377.05,167.22 L377.55,167.47 L378.05,167.73 L378.55,167.99 L379.05,168.25 L379.55,168.51 L380.05,168.77 L380.55,169.03 L381.05,169.29 L381.55,169.55 L382.05,169.81 L382.55,170.07 L383.05,170.33 L383.55,170.59 L384.05,170.86 L384.55,171.12 L385.05,171.38 L385.55,171.65 L386.05,171.91 L386.55,172.18 L387.05,172.44 L387.55,172.70 L388.05,172.97 L388.55,173.24 L389.05,173.50 L389.55,173.77 L390.05,174.04 L390.55,174.30 L391.05,174.57 L391.55,174.84 L392.05,175.11 L392.55,175.38 L393.05,175.65 L393.55,175.92 L394.05,176.19 L394.55,176.46 L395.05,176.73 L395.55,177.00 L396.05,177.27 L396.55,177.54 L397.05,177.82 L397.55,178.09 L398.05,178.36 L398.55,178.64 L399.05,178.91 L399.55,179.19 L400.05,179.46 L400.55,179.74 L401.05,180.02 L401.55,180.29 L402.05,180.57 L402.55,180.85 L403.05,181.12 L403.55,181.40 L404.05,181.68 L404.55,181.96 L405.05,182.24 L405.55,182.52 L406.05,182.80 L406.55,183.08 L407.05,183.36 L407.55,183.65 L408.05,183.93 L408.55,184.21 L409.05,184.49 L409.55,184.78 L410.05,185.06 L410.55,185.35 L411.05,185.63 L411.55,185.92 L412.05,186.20 L412.55,186.49 L413.05,186.78 L413.55,187.06 L414.05,187.35 L414.55,187.64 L415.05,187.93 L415.55,188.22 L416.05,188.51 L416.55,188.80 L417.05,189.09 L417.55,189.38 L418.05,189.67 L418.55,189.97 L419.05,190.26 L419.55,190.55" stroke="#0c0cff" />
</g>
<g stroke="#333" stroke-width="0.72" fill="none">
<path d="M420,51.5 H189.55 V208.3 H420" stroke-width="0.9"/>
<path d="M189.55,208.25 h6.9"/>
<path d="M189.55,202.84 h3.6"/>
<path d="M189.55,199.68 h3.6"/>
<path d="M189.55,197.43 h3.6"/>
<path d="M189.55,195.69 h3.6"/>
<path d="M189.55,194.27 h3.6"/>
<path d="M189.55,193.06 h3.6"/>
<path d="M189.55,192.02 h3.6"/>
<path d="M189.55,191.10 h3.6"/>
<path d="M189.55,190.28 h6.9"/>
<path d="M189.55,184.87 h3.6"/>
<path d="M189.55,181.71 h3.6"/>
<path d="M189.55,179.46 h3.6"/>
<path d="M189.55,177.72 h3.6"/>
<path d="M189.55,176.30 h3.6"/>
<path d="M189.55,175.09 h3.6"/>
<path d="M189.55,174.05 h3.6"/>
<path d="M189.55,173.13 h3.6"/>
<path d="M189.55,172.31 h6.9"/>
<path d="M189.55,166.90 h3.6"/>
<path d="M189.55,163.74 h3.6"/>
<path d="M189.55,161.49 h3.6"/>
<path d="M189.55,159.75 h3.6"/>
<path d="M189.55,158.33 h3.6"/>
<path d="M189.55,157.12 h3.6"/>
<path d="M189.55,156.08 h3.6"/>
<path d="M189.55,155.16 h3.6"/>
<path d="M189.55,154.34 h6.9"/>
<path d="M189.55,148.93 h3.6"/>
<path d="M189.55,145.77 h3.6"/>
<path d="M189.55,143.52 h3.6"/>
<path d="M189.55,141.78 h3.6"/>
<path d="M189.55,140.36 h3.6"/>
<path d="M189.55,139.15 h3.6"/>
<path d="M189.55,138.11 h3.6"/>
<path d="M189.55,137.19 h3.6"/>
<path d="M189.55,136.37 h6.9"/>
<path d="M189.55,130.96 h3.6"/>
<path d="M189.55,127.80 h3.6"/>
<path d="M189.55,125.55 h3.6"/>
<path d="M189.55,123.81 h3.6"/>
<path d="M189.55,122.39 h3.6"/>
<path d="M189.55,121.18 h3.6"/>
<path d="M189.55,120.14 h3.6"/>
<path d="M189.55,119.22 h3.6"/>
<path d="M189.55,118.40 h6.9"/>
<path d="M189.55,112.99 h3.6"/>
<path d="M189.55,109.83 h3.6"/>
<path d="M189.55,107.58 h3.6"/>
<path d="M189.55,105.84 h3.6"/>
<path d="M189.55,104.42 h3.6"/>
<path d="M189.55,103.21 h3.6"/>
<path d="M189.55,102.17 h3.6"/>
<path d="M189.55,101.25 h3.6"/>
<path d="M189.55,100.43 h6.9"/>
<path d="M189.55,95.02 h3.6"/>
<path d="M189.55,91.86 h3.6"/>
<path d="M189.55,89.61 h3.6"/>
<path d="M189.55,87.87 h3.6"/>
<path d="M189.55,86.45 h3.6"/>
<path d="M189.55,85.24 h3.6"/>
<path d="M189.55,84.20 h3.6"/>
<path d="M189.55,83.28 h3.6"/>
<path d="M189.55,82.46 h6.9"/>
<path d="M189.55,77.05 h3.6"/>
<path d="M189.55,73.89 h3.6"/>
<path d="M189.55,71.64 h3.6"/>
<path d="M189.55,69.90 h3.6"/>
<path d="M189.55,68.48 h3.6"/>
<path d="M189.55,67.27 h3.6"/>
<path d="M189.55,66.23 h3.6"/>
<path d="M189.55,65.31 h3.6"/>
<path d="M189.55,64.49 h6.9"/>
<path d="M189.55,59.08 h3.6"/>
<path d="M189.55,55.92 h3.6"/>
<path d="M189.55,53.67 h3.6"/>
<path d="M243.63,208.3 v-7.0"/>
<path d="M243.63,51.5 v7.0"/>
<path d="M297.75,208.3 v-7.0"/>
<path d="M297.75,51.5 v7.0"/>
<path d="M329.41,208.3 v-7.0"/>
<path d="M329.41,51.5 v7.0"/>
<path d="M369.30,208.3 v-7.0"/>
<path d="M369.30,51.5 v7.0"/>
<path d="M423.43,208.3 v-7.0"/>
<path d="M423.43,51.5 v7.0"/>
<path d="M196.94,208.3 v-3.4"/>
<path d="M196.94,51.5 v3.4"/>
<path d="M203.74,208.3 v-3.4"/>
<path d="M203.74,51.5 v3.4"/>
<path d="M209.99,208.3 v-3.4"/>
<path d="M209.99,51.5 v3.4"/>
<path d="M215.77,208.3 v-3.4"/>
<path d="M215.77,51.5 v3.4"/>
<path d="M221.16,208.3 v-3.4"/>
<path d="M221.16,51.5 v3.4"/>
<path d="M226.20,208.3 v-3.4"/>
<path d="M226.20,51.5 v3.4"/>
<path d="M230.93,208.3 v-3.4"/>
<path d="M230.93,51.5 v3.4"/>
<path d="M235.40,208.3 v-3.4"/>
<path d="M235.40,51.5 v3.4"/>
<path d="M239.62,208.3 v-3.4"/>
<path d="M239.62,51.5 v3.4"/>
<path d="M275.29,208.3 v-3.4"/>
<path d="M275.29,51.5 v3.4"/>
<path d="M315.17,208.3 v-3.4"/>
<path d="M315.17,51.5 v3.4"/>
<path d="M341.45,208.3 v-3.4"/>
<path d="M341.45,51.5 v3.4"/>
<path d="M351.88,208.3 v-3.4"/>
<path d="M351.88,51.5 v3.4"/>
<path d="M361.07,208.3 v-3.4"/>
<path d="M361.07,51.5 v3.4"/>
<path d="M376.74,208.3 v-3.4"/>
<path d="M376.74,51.5 v3.4"/>
<path d="M383.54,208.3 v-3.4"/>
<path d="M383.54,51.5 v3.4"/>
<path d="M389.79,208.3 v-3.4"/>
<path d="M389.79,51.5 v3.4"/>
<path d="M395.57,208.3 v-3.4"/>
<path d="M395.57,51.5 v3.4"/>
<path d="M400.96,208.3 v-3.4"/>
<path d="M400.96,51.5 v3.4"/>
<path d="M406.00,208.3 v-3.4"/>
<path d="M406.00,51.5 v3.4"/>
<path d="M410.73,208.3 v-3.4"/>
<path d="M410.73,51.5 v3.4"/>
<path d="M415.20,208.3 v-3.4"/>
<path d="M415.20,51.5 v3.4"/>
<path d="M419.42,208.3 v-3.4"/>
<path d="M419.42,51.5 v3.4"/>
</g>
<g font-family="Liberation Serif" font-weight="bold">
<text transform="translate(166.09,67.50) scale(1.066,1)" font-size="12.0" fill="#1a1a1a" stroke="#fff" stroke-width="0.2">100</text>
<text transform="translate(172.27,85.55) scale(1.085,1)" font-size="12.0" fill="#1a1a1a" stroke="#fff" stroke-width="0.2">10</text>
<text transform="translate(179.46,103.70) scale(0.989,1)" font-size="12.0" fill="#1a1a1a" stroke="#fff" stroke-width="0.2">1</text>
<text transform="translate(167.91,121.40) scale(1.082,1)" font-size="12.0" fill="#1a1a1a" stroke="#fff" stroke-width="0.2">0.1</text>
<text transform="translate(162.73,140.00) scale(1.053,1)" font-size="12.0" fill="#1a1a1a" stroke="#fff" stroke-width="0.2">0.01</text>
<text transform="translate(160.76,158.10) scale(1.094,1)" font-size="12.0" fill="#1a1a1a" stroke="#fff" stroke-width="0.2">10</text>
<text transform="translate(180.25,154.50) scale(1.173,1)" font-size="8.6" fill="#1a1a1a" stroke="#fff" stroke-width="0.2">3</text>
<text transform="translate(160.76,176.20) scale(1.094,1)" font-size="12.0" fill="#1a1a1a" stroke="#fff" stroke-width="0.2">10</text>
<text transform="translate(180.49,172.10) scale(1.086,1)" font-size="8.6" fill="#1a1a1a" stroke="#fff" stroke-width="0.2">4</text>
<text transform="translate(160.76,193.00) scale(1.094,1)" font-size="12.0" fill="#1a1a1a" stroke="#fff" stroke-width="0.2">10</text>
<text transform="translate(180.24,188.85) scale(1.189,1)" font-size="8.6" fill="#1a1a1a" stroke="#fff" stroke-width="0.2">5</text>
<text transform="translate(160.76,211.70) scale(1.094,1)" font-size="12.0" fill="#1a1a1a" stroke="#fff" stroke-width="0.2">10</text>
<text transform="translate(180.31,207.90) scale(1.158,1)" font-size="8.6" fill="#1a1a1a" stroke="#fff" stroke-width="0.2">6</text>
<text transform="translate(182.53,218.70) scale(1.045,1)" font-size="12.0" fill="#1a1a1a" stroke="#fff" stroke-width="0.2">50</text>
<text transform="translate(233.79,218.70) scale(1.066,1)" font-size="12.0" fill="#1a1a1a" stroke="#fff" stroke-width="0.2">100</text>
<text transform="translate(288.98,218.70) scale(1.032,1)" font-size="12.0" fill="#1a1a1a" stroke="#fff" stroke-width="0.2">200</text>
<text transform="translate(320.84,218.70) scale(1.029,1)" font-size="12.0" fill="#1a1a1a" stroke="#fff" stroke-width="0.2">300</text>
<text transform="translate(360.48,218.70) scale(1.038,1)" font-size="12.0" fill="#1a1a1a" stroke="#fff" stroke-width="0.2">500</text>
<text transform="translate(408.50,218.70) scale(1.058,1)" font-size="12.0" fill="#1a1a1a" stroke="#fff" stroke-width="0.2">1000</text>
<text transform="translate(283.38,234.30) scale(1.057,1)" font-size="12.0" font-style="italic" fill="#1a1a1a" stroke="#fff" stroke-width="0.2">Q</text>
<text transform="translate(301.53,234.40) scale(1.033,1)" font-size="12.0" fill="#1a1a1a" stroke="#fff" stroke-width="0.2">GeV</text>
<text transform="translate(310.88,69.50) scale(1.066,1)" font-size="12.0" fill="#1a1a1a" stroke="#fff" stroke-width="0.2">no cut</text>
<text transform="translate(351.45,69.50) scale(1.106,1)" font-size="12.0" fill="#1a1a1a" stroke="#fff" stroke-width="0.2">(NLO)</text>
<text transform="translate(310.37,84.00) scale(1.151,1)" font-size="11.64" font-style="italic" fill="#1a1a1a" stroke="#fff" stroke-width="0.2">τ</text>
<text transform="translate(317.01,87.75) scale(1.056,1)" font-size="8.4" font-style="italic" fill="#1a1a1a" stroke="#fff" stroke-width="0.2">B</text>
<text transform="translate(317.92,80.00) scale(1.137,1)" font-size="7.6" fill="#1a1a1a" stroke="#fff" stroke-width="0.2">cut</text>
<text transform="translate(343.57,83.80) scale(0.953,1)" font-size="12.0" fill="#1a1a1a" stroke="#fff" stroke-width="0.2">0.1</text>
<text transform="translate(365.86,83.80) scale(1.083,1)" font-size="12.0" fill="#1a1a1a" stroke="#fff" stroke-width="0.2">(NNLL)</text>
<text transform="translate(310.37,97.90) scale(1.151,1)" font-size="11.64" font-style="italic" fill="#1a1a1a" stroke="#fff" stroke-width="0.2">τ</text>
<text transform="translate(317.01,101.65) scale(1.056,1)" font-size="8.4" font-style="italic" fill="#1a1a1a" stroke="#fff" stroke-width="0.2">B</text>
<text transform="translate(317.92,93.90) scale(1.137,1)" font-size="7.6" fill="#1a1a1a" stroke="#fff" stroke-width="0.2">cut</text>
<text transform="translate(343.49,97.70) scale(1.127,1)" font-size="12.0" fill="#1a1a1a" stroke="#fff" stroke-width="0.2">0.02</text>
<text transform="translate(372.56,97.70) scale(1.083,1)" font-size="12.0" fill="#1a1a1a" stroke="#fff" stroke-width="0.2">(NNLL)</text>
<text transform="translate(299.55,124.40) scale(1.163,1)" font-size="12.0" font-style="italic" fill="#0c0cff" stroke="#fff" stroke-width="0.08">σ</text>
<text transform="translate(308.66,126.50) scale(1.105,1)" font-size="8.2" font-style="italic" fill="#0c0cff" stroke="#fff" stroke-width="0.08">pp</text>
<text transform="translate(318.17,124.40) scale(0.857,1)" font-size="12.0" fill="#0c0cff" stroke="#fff" stroke-width="0.08">(</text>
<text transform="translate(322.70,124.40) scale(0.987,1)" font-size="12.0" font-style="italic" fill="#0c0cff" stroke="#fff" stroke-width="0.08">E</text>
<text transform="translate(330.40,126.50) scale(1.199,1)" font-size="8.2" fill="#0c0cff" stroke="#fff" stroke-width="0.08">cm</text>
<text transform="translate(357.48,124.40) scale(0.961,1)" font-size="12.0" fill="#0c0cff" stroke="#fff" stroke-width="0.08">7</text>
<text transform="translate(367.26,124.40) scale(0.955,1)" font-size="12.0" fill="#0c0cff" stroke="#fff" stroke-width="0.08">TeV</text>
<text transform="translate(389.01,124.40) scale(1.111,1)" font-size="12.0" fill="#0c0cff" stroke="#fff" stroke-width="0.08">)</text>
<text transform="translate(206.23,193.50) scale(1.047,1)" font-size="12.0" fill="#ff3a08" stroke="#fff" stroke-width="0.08">0.1</text>
<text transform="translate(221.83,193.50) scale(1.225,1)" font-size="12.0" font-style="italic" fill="#ff3a08" stroke="#fff" stroke-width="0.08">σ</text>
<text transform="translate(231.95,195.30) scale(1.244,1)" font-size="8.2" font-style="italic" fill="#ff3a08" stroke="#fff" stroke-width="0.08">pp</text>
<text transform="translate(242.86,193.50) scale(0.889,1)" font-size="12.0" fill="#ff3a08" stroke="#fff" stroke-width="0.08">(</text>
<text transform="translate(247.60,193.50) scale(1.026,1)" font-size="12.0" font-style="italic" fill="#ff3a08" stroke="#fff" stroke-width="0.08">E</text>
<text transform="translate(256.03,195.20) scale(1.080,1)" font-size="8.2" fill="#ff3a08" stroke="#fff" stroke-width="0.08">cm</text>
<text transform="translate(281.37,193.50) scale(1.081,1)" font-size="12.0" fill="#ff3a08" stroke="#fff" stroke-width="0.08">1.96</text>
<text transform="translate(308.06,193.50) scale(0.921,1)" font-size="12.0" fill="#ff3a08" stroke="#fff" stroke-width="0.08">TeV</text>
<text transform="translate(329.94,193.50) scale(1.016,1)" font-size="12.0" fill="#ff3a08" stroke="#fff" stroke-width="0.08">)</text>
<g transform="rotate(-90)"><text transform="translate(-178.82,152.50) scale(0.934,1)" font-size="12.0" fill="#1a1a1a" stroke="#fff" stroke-width="0.2">d</text><text transform="translate(-172.17,152.50) scale(0.769,1)" font-size="14.5" font-style="italic" fill="#1a1a1a" stroke="#fff" stroke-width="0.2">σ</text><text transform="translate(-158.23,152.50) scale(0.951,1)" font-size="12.0" fill="#1a1a1a" stroke="#fff" stroke-width="0.2">d</text><text transform="translate(-150.33,152.50) scale(1.069,1)" font-size="12.0" font-style="italic" fill="#1a1a1a" stroke="#fff" stroke-width="0.2">Q</text><text transform="translate(-130.24,152.50) scale(0.935,1)" font-size="12.0" fill="#1a1a1a" stroke="#fff" stroke-width="0.2">pb</text><text transform="translate(-111.20,152.50) scale(1.094,1)" font-size="12.0" fill="#1a1a1a" stroke="#fff" stroke-width="0.2">GeV</text></g>
<rect x="174.5" y="151.35" width="5.5" height="0.75" fill="#1a1a1a"/>
<rect x="174.5" y="168.95" width="5.5" height="0.75" fill="#1a1a1a"/>
<rect x="174.5" y="185.70" width="5.5" height="0.75" fill="#1a1a1a"/>
<rect x="174.5" y="204.75" width="5.5" height="0.75" fill="#1a1a1a"/>
<rect x="333.40" y="79.20" width="7.80" height="0.9" fill="#1a1a1a"/>
<rect x="333.40" y="81.45" width="7.80" height="0.9" fill="#1a1a1a"/>
<rect x="333.40" y="93.10" width="7.80" height="0.9" fill="#1a1a1a"/>
<rect x="333.40" y="95.35" width="7.80" height="0.9" fill="#1a1a1a"/>
<rect x="345.90" y="119.80" width="8.30" height="0.9" fill="#0c0cff"/>
<rect x="345.90" y="122.05" width="8.30" height="0.9" fill="#0c0cff"/>
<rect x="270.60" y="188.90" width="8.30" height="0.9" fill="#ff3a08"/>
<rect x="270.60" y="191.15" width="8.30" height="0.9" fill="#ff3a08"/>
<path d="M155.3,163.4 L143.1,158.1" stroke="#1a1a1a" stroke-width="0.95" fill="none"/>
<path d="M155.3,117.9 L143.1,111.4" stroke="#1a1a1a" stroke-width="0.95" fill="none"/>
<path d="M143.6,131.7 V133.2 H155.6 V131.7" stroke="#1a1a1a" stroke-width="0.95" fill="none"/>
<path d="M143.6,83.3 V81.6 H155.6 V83.3" stroke="#1a1a1a" stroke-width="0.95" fill="none"/>
<path d="M301.0,225.8 H299.5 V237.1 H301.0" stroke="#1a1a1a" stroke-width="0.95" fill="none"/>
<path d="M327.4,225.8 H329.0 V237.1 H327.4" stroke="#1a1a1a" stroke-width="0.95" fill="none"/>
<rect x="236.9" y="190.1" width="5.0" height="0.8" fill="#ff3a08"/>
<path d="M285.1,67.3 H306.9" stroke="#111" stroke-width="1.2" fill="none"/>
<path d="M285.1,81.5 H306.9" stroke="#111" stroke-width="1.2" stroke-dasharray="6.2 3.45" fill="none"/>
<path d="M285.2,95.5 H305" stroke="#111" stroke-width="1.2" stroke-dasharray="1.6 2.5" fill="none"/>
</g>
</svg></body></html>
